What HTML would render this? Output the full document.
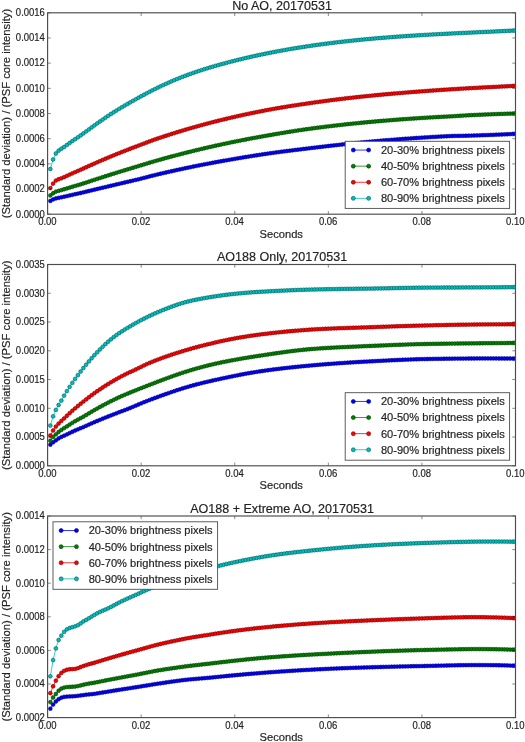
<!DOCTYPE html>
<html><head><meta charset="utf-8"><title>Standard deviation vs seconds</title>
<style>html,body{margin:0;padding:0;background:#fff}body{width:525px;height:742px;overflow:hidden;font-family:"Liberation Sans",sans-serif}svg{display:block}</style>
</head><body>
<svg width="525" height="742" viewBox="0 0 525 742" font-family="Liberation Sans, sans-serif" style="will-change:transform"><style>text{stroke:#222;stroke-width:0.18px;paint-order:stroke}</style>
<rect width="525" height="742" fill="#fff"/>
<g>
<clipPath id="cp0"><rect x="47.6" y="12.8" width="468.2" height="201.4"/></clipPath>
<g clip-path="url(#cp0)">
<polyline points="50.35,200.93 53.1,199.45 55.86,198.43 58.61,197.82 61.36,197.3 64.11,196.7 66.87,196.1 69.62,195.47 72.37,194.84 75.12,194.22 77.88,193.61 80.63,192.99 83.38,192.35 86.13,191.68 88.89,191.01 91.64,190.35 94.39,189.68 97.14,189.02 99.89,188.36 102.65,187.71 105.4,187.05 108.15,186.4 110.9,185.75 113.66,185.1 116.41,184.46 119.16,183.81 121.91,183.17 124.67,182.52 127.42,181.88 130.17,181.23 132.92,180.59 135.68,179.95 138.43,179.28 141.18,178.6 143.93,177.9 146.68,177.18 149.44,176.47 152.19,175.76 154.94,175.07 157.69,174.4 160.45,173.75 163.2,173.11 165.95,172.48 168.7,171.86 171.46,171.24 174.21,170.63 176.96,170.02 179.71,169.42 182.47,168.83 185.22,168.24 187.97,167.66 190.72,167.09 193.47,166.52 196.23,165.96 198.98,165.41 201.73,164.87 204.48,164.33 207.24,163.8 209.99,163.28 212.74,162.77 215.49,162.26 218.25,161.76 221,161.26 223.75,160.76 226.5,160.28 229.26,159.79 232.01,159.32 234.76,158.84 237.51,158.38 240.26,157.92 243.02,157.46 245.77,157.01 248.52,156.56 251.27,156.12 254.03,155.68 256.78,155.25 259.53,154.83 262.28,154.41 265.04,154 267.79,153.6 270.54,153.21 273.29,152.82 276.05,152.45 278.8,152.08 281.55,151.71 284.3,151.36 287.05,151.01 289.81,150.66 292.56,150.31 295.31,149.97 298.06,149.64 300.82,149.3 303.57,148.96 306.32,148.63 309.07,148.3 311.83,147.96 314.58,147.63 317.33,147.3 320.08,146.98 322.84,146.66 325.59,146.34 328.34,146.02 331.09,145.71 333.84,145.4 336.6,145.1 339.35,144.8 342.1,144.5 344.85,144.2 347.61,143.91 350.36,143.63 353.11,143.34 355.86,143.06 358.62,142.79 361.37,142.52 364.12,142.25 366.87,141.99 369.63,141.73 372.38,141.47 375.13,141.22 377.88,140.98 380.63,140.74 383.39,140.5 386.14,140.27 388.89,140.04 391.64,139.82 394.4,139.6 397.15,139.38 399.9,139.18 402.65,138.97 405.41,138.77 408.16,138.57 410.91,138.38 413.66,138.18 416.42,137.99 419.17,137.81 421.92,137.63 424.67,137.45 427.42,137.28 430.18,137.11 432.93,136.95 435.68,136.8 438.43,136.65 441.19,136.5 443.94,136.37 446.69,136.24 449.44,136.12 452.2,136.01 454.95,135.93 457.7,135.88 460.45,135.84 463.21,135.79 465.96,135.75 468.71,135.68 471.46,135.59 474.21,135.5 476.97,135.41 479.72,135.32 482.47,135.22 485.22,135.13 487.98,135.03 490.73,134.92 493.48,134.82 496.23,134.71 498.99,134.6 501.74,134.48 504.49,134.36 507.24,134.24 510,134.11 512.75,133.97 514.7,133.87" fill="none" stroke="#0000ff" stroke-width="0.8"/>
<g fill="#0000ff" stroke="#000070" stroke-width="0.6">
<circle cx="50.35" cy="200.93" r="1.9"/><circle cx="53.1" cy="199.45" r="1.9"/><circle cx="55.86" cy="198.43" r="1.9"/><circle cx="58.61" cy="197.82" r="1.9"/><circle cx="61.36" cy="197.3" r="1.9"/><circle cx="64.11" cy="196.7" r="1.9"/><circle cx="66.87" cy="196.1" r="1.9"/><circle cx="69.62" cy="195.47" r="1.9"/><circle cx="72.37" cy="194.84" r="1.9"/><circle cx="75.12" cy="194.22" r="1.9"/><circle cx="77.88" cy="193.61" r="1.9"/><circle cx="80.63" cy="192.99" r="1.9"/><circle cx="83.38" cy="192.35" r="1.9"/><circle cx="86.13" cy="191.68" r="1.9"/><circle cx="88.89" cy="191.01" r="1.9"/><circle cx="91.64" cy="190.35" r="1.9"/><circle cx="94.39" cy="189.68" r="1.9"/><circle cx="97.14" cy="189.02" r="1.9"/><circle cx="99.89" cy="188.36" r="1.9"/><circle cx="102.65" cy="187.71" r="1.9"/><circle cx="105.4" cy="187.05" r="1.9"/><circle cx="108.15" cy="186.4" r="1.9"/><circle cx="110.9" cy="185.75" r="1.9"/><circle cx="113.66" cy="185.1" r="1.9"/><circle cx="116.41" cy="184.46" r="1.9"/><circle cx="119.16" cy="183.81" r="1.9"/><circle cx="121.91" cy="183.17" r="1.9"/><circle cx="124.67" cy="182.52" r="1.9"/><circle cx="127.42" cy="181.88" r="1.9"/><circle cx="130.17" cy="181.23" r="1.9"/><circle cx="132.92" cy="180.59" r="1.9"/><circle cx="135.68" cy="179.95" r="1.9"/><circle cx="138.43" cy="179.28" r="1.9"/><circle cx="141.18" cy="178.6" r="1.9"/><circle cx="143.93" cy="177.9" r="1.9"/><circle cx="146.68" cy="177.18" r="1.9"/><circle cx="149.44" cy="176.47" r="1.9"/><circle cx="152.19" cy="175.76" r="1.9"/><circle cx="154.94" cy="175.07" r="1.9"/><circle cx="157.69" cy="174.4" r="1.9"/><circle cx="160.45" cy="173.75" r="1.9"/><circle cx="163.2" cy="173.11" r="1.9"/><circle cx="165.95" cy="172.48" r="1.9"/><circle cx="168.7" cy="171.86" r="1.9"/><circle cx="171.46" cy="171.24" r="1.9"/><circle cx="174.21" cy="170.63" r="1.9"/><circle cx="176.96" cy="170.02" r="1.9"/><circle cx="179.71" cy="169.42" r="1.9"/><circle cx="182.47" cy="168.83" r="1.9"/><circle cx="185.22" cy="168.24" r="1.9"/><circle cx="187.97" cy="167.66" r="1.9"/><circle cx="190.72" cy="167.09" r="1.9"/><circle cx="193.47" cy="166.52" r="1.9"/><circle cx="196.23" cy="165.96" r="1.9"/><circle cx="198.98" cy="165.41" r="1.9"/><circle cx="201.73" cy="164.87" r="1.9"/><circle cx="204.48" cy="164.33" r="1.9"/><circle cx="207.24" cy="163.8" r="1.9"/><circle cx="209.99" cy="163.28" r="1.9"/><circle cx="212.74" cy="162.77" r="1.9"/><circle cx="215.49" cy="162.26" r="1.9"/><circle cx="218.25" cy="161.76" r="1.9"/><circle cx="221" cy="161.26" r="1.9"/><circle cx="223.75" cy="160.76" r="1.9"/><circle cx="226.5" cy="160.28" r="1.9"/><circle cx="229.26" cy="159.79" r="1.9"/><circle cx="232.01" cy="159.32" r="1.9"/><circle cx="234.76" cy="158.84" r="1.9"/><circle cx="237.51" cy="158.38" r="1.9"/><circle cx="240.26" cy="157.92" r="1.9"/><circle cx="243.02" cy="157.46" r="1.9"/><circle cx="245.77" cy="157.01" r="1.9"/><circle cx="248.52" cy="156.56" r="1.9"/><circle cx="251.27" cy="156.12" r="1.9"/><circle cx="254.03" cy="155.68" r="1.9"/><circle cx="256.78" cy="155.25" r="1.9"/><circle cx="259.53" cy="154.83" r="1.9"/><circle cx="262.28" cy="154.41" r="1.9"/><circle cx="265.04" cy="154" r="1.9"/><circle cx="267.79" cy="153.6" r="1.9"/><circle cx="270.54" cy="153.21" r="1.9"/><circle cx="273.29" cy="152.82" r="1.9"/><circle cx="276.05" cy="152.45" r="1.9"/><circle cx="278.8" cy="152.08" r="1.9"/><circle cx="281.55" cy="151.71" r="1.9"/><circle cx="284.3" cy="151.36" r="1.9"/><circle cx="287.05" cy="151.01" r="1.9"/><circle cx="289.81" cy="150.66" r="1.9"/><circle cx="292.56" cy="150.31" r="1.9"/><circle cx="295.31" cy="149.97" r="1.9"/><circle cx="298.06" cy="149.64" r="1.9"/><circle cx="300.82" cy="149.3" r="1.9"/><circle cx="303.57" cy="148.96" r="1.9"/><circle cx="306.32" cy="148.63" r="1.9"/><circle cx="309.07" cy="148.3" r="1.9"/><circle cx="311.83" cy="147.96" r="1.9"/><circle cx="314.58" cy="147.63" r="1.9"/><circle cx="317.33" cy="147.3" r="1.9"/><circle cx="320.08" cy="146.98" r="1.9"/><circle cx="322.84" cy="146.66" r="1.9"/><circle cx="325.59" cy="146.34" r="1.9"/><circle cx="328.34" cy="146.02" r="1.9"/><circle cx="331.09" cy="145.71" r="1.9"/><circle cx="333.84" cy="145.4" r="1.9"/><circle cx="336.6" cy="145.1" r="1.9"/><circle cx="339.35" cy="144.8" r="1.9"/><circle cx="342.1" cy="144.5" r="1.9"/><circle cx="344.85" cy="144.2" r="1.9"/><circle cx="347.61" cy="143.91" r="1.9"/><circle cx="350.36" cy="143.63" r="1.9"/><circle cx="353.11" cy="143.34" r="1.9"/><circle cx="355.86" cy="143.06" r="1.9"/><circle cx="358.62" cy="142.79" r="1.9"/><circle cx="361.37" cy="142.52" r="1.9"/><circle cx="364.12" cy="142.25" r="1.9"/><circle cx="366.87" cy="141.99" r="1.9"/><circle cx="369.63" cy="141.73" r="1.9"/><circle cx="372.38" cy="141.47" r="1.9"/><circle cx="375.13" cy="141.22" r="1.9"/><circle cx="377.88" cy="140.98" r="1.9"/><circle cx="380.63" cy="140.74" r="1.9"/><circle cx="383.39" cy="140.5" r="1.9"/><circle cx="386.14" cy="140.27" r="1.9"/><circle cx="388.89" cy="140.04" r="1.9"/><circle cx="391.64" cy="139.82" r="1.9"/><circle cx="394.4" cy="139.6" r="1.9"/><circle cx="397.15" cy="139.38" r="1.9"/><circle cx="399.9" cy="139.18" r="1.9"/><circle cx="402.65" cy="138.97" r="1.9"/><circle cx="405.41" cy="138.77" r="1.9"/><circle cx="408.16" cy="138.57" r="1.9"/><circle cx="410.91" cy="138.38" r="1.9"/><circle cx="413.66" cy="138.18" r="1.9"/><circle cx="416.42" cy="137.99" r="1.9"/><circle cx="419.17" cy="137.81" r="1.9"/><circle cx="421.92" cy="137.63" r="1.9"/><circle cx="424.67" cy="137.45" r="1.9"/><circle cx="427.42" cy="137.28" r="1.9"/><circle cx="430.18" cy="137.11" r="1.9"/><circle cx="432.93" cy="136.95" r="1.9"/><circle cx="435.68" cy="136.8" r="1.9"/><circle cx="438.43" cy="136.65" r="1.9"/><circle cx="441.19" cy="136.5" r="1.9"/><circle cx="443.94" cy="136.37" r="1.9"/><circle cx="446.69" cy="136.24" r="1.9"/><circle cx="449.44" cy="136.12" r="1.9"/><circle cx="452.2" cy="136.01" r="1.9"/><circle cx="454.95" cy="135.93" r="1.9"/><circle cx="457.7" cy="135.88" r="1.9"/><circle cx="460.45" cy="135.84" r="1.9"/><circle cx="463.21" cy="135.79" r="1.9"/><circle cx="465.96" cy="135.75" r="1.9"/><circle cx="468.71" cy="135.68" r="1.9"/><circle cx="471.46" cy="135.59" r="1.9"/><circle cx="474.21" cy="135.5" r="1.9"/><circle cx="476.97" cy="135.41" r="1.9"/><circle cx="479.72" cy="135.32" r="1.9"/><circle cx="482.47" cy="135.22" r="1.9"/><circle cx="485.22" cy="135.13" r="1.9"/><circle cx="487.98" cy="135.03" r="1.9"/><circle cx="490.73" cy="134.92" r="1.9"/><circle cx="493.48" cy="134.82" r="1.9"/><circle cx="496.23" cy="134.71" r="1.9"/><circle cx="498.99" cy="134.6" r="1.9"/><circle cx="501.74" cy="134.48" r="1.9"/><circle cx="504.49" cy="134.36" r="1.9"/><circle cx="507.24" cy="134.24" r="1.9"/><circle cx="510" cy="134.11" r="1.9"/><circle cx="512.75" cy="133.97" r="1.9"/><circle cx="514.7" cy="133.87" r="1.9"/>
</g>
<polyline points="50.35,195.43 53.1,193.27 55.86,191.62 58.61,190.84 61.36,190.09 64.11,189.26 66.87,188.43 69.62,187.59 72.37,186.76 75.12,185.95 77.88,185.14 80.63,184.31 83.38,183.45 86.13,182.54 88.89,181.63 91.64,180.72 94.39,179.82 97.14,178.92 99.89,178.03 102.65,177.14 105.4,176.26 108.15,175.38 110.9,174.51 113.66,173.65 116.41,172.79 119.16,171.93 121.91,171.08 124.67,170.24 127.42,169.4 130.17,168.57 132.92,167.74 135.68,166.92 138.43,166.09 141.18,165.25 143.93,164.41 146.68,163.58 149.44,162.74 152.19,161.92 154.94,161.1 157.69,160.31 160.45,159.53 163.2,158.77 165.95,158.01 168.7,157.26 171.46,156.52 174.21,155.79 176.96,155.07 179.71,154.35 182.47,153.64 185.22,152.94 187.97,152.25 190.72,151.56 193.47,150.88 196.23,150.21 198.98,149.55 201.73,148.89 204.48,148.25 207.24,147.61 209.99,146.98 212.74,146.36 215.49,145.74 218.25,145.14 221,144.54 223.75,143.94 226.5,143.36 229.26,142.78 232.01,142.21 234.76,141.65 237.51,141.1 240.26,140.55 243.02,140.01 245.77,139.48 248.52,138.95 251.27,138.44 254.03,137.93 256.78,137.42 259.53,136.93 262.28,136.44 265.04,135.95 267.79,135.46 270.54,134.98 273.29,134.5 276.05,134.02 278.8,133.55 281.55,133.09 284.3,132.63 287.05,132.18 289.81,131.73 292.56,131.29 295.31,130.86 298.06,130.44 300.82,130.03 303.57,129.62 306.32,129.23 309.07,128.85 311.83,128.48 314.58,128.11 317.33,127.75 320.08,127.4 322.84,127.05 325.59,126.71 328.34,126.37 331.09,126.04 333.84,125.72 336.6,125.4 339.35,125.08 342.1,124.78 344.85,124.47 347.61,124.17 350.36,123.88 353.11,123.59 355.86,123.31 358.62,123.04 361.37,122.76 364.12,122.5 366.87,122.24 369.63,121.98 372.38,121.73 375.13,121.48 377.88,121.24 380.63,121 383.39,120.77 386.14,120.54 388.89,120.31 391.64,120.09 394.4,119.88 397.15,119.67 399.9,119.46 402.65,119.26 405.41,119.06 408.16,118.87 410.91,118.68 413.66,118.49 416.42,118.31 419.17,118.13 421.92,117.96 424.67,117.79 427.42,117.62 430.18,117.46 432.93,117.3 435.68,117.15 438.43,117 441.19,116.85 443.94,116.7 446.69,116.56 449.44,116.43 452.2,116.28 454.95,116.12 457.7,115.95 460.45,115.77 463.21,115.59 465.96,115.42 468.71,115.26 471.46,115.13 474.21,115 476.97,114.87 479.72,114.75 482.47,114.63 485.22,114.51 487.98,114.4 490.73,114.29 493.48,114.18 496.23,114.08 498.99,113.98 501.74,113.89 504.49,113.8 507.24,113.71 510,113.63 512.75,113.55 514.7,113.5" fill="none" stroke="#008000" stroke-width="0.8"/>
<g fill="#008000" stroke="#003800" stroke-width="0.6">
<circle cx="50.35" cy="195.43" r="1.9"/><circle cx="53.1" cy="193.27" r="1.9"/><circle cx="55.86" cy="191.62" r="1.9"/><circle cx="58.61" cy="190.84" r="1.9"/><circle cx="61.36" cy="190.09" r="1.9"/><circle cx="64.11" cy="189.26" r="1.9"/><circle cx="66.87" cy="188.43" r="1.9"/><circle cx="69.62" cy="187.59" r="1.9"/><circle cx="72.37" cy="186.76" r="1.9"/><circle cx="75.12" cy="185.95" r="1.9"/><circle cx="77.88" cy="185.14" r="1.9"/><circle cx="80.63" cy="184.31" r="1.9"/><circle cx="83.38" cy="183.45" r="1.9"/><circle cx="86.13" cy="182.54" r="1.9"/><circle cx="88.89" cy="181.63" r="1.9"/><circle cx="91.64" cy="180.72" r="1.9"/><circle cx="94.39" cy="179.82" r="1.9"/><circle cx="97.14" cy="178.92" r="1.9"/><circle cx="99.89" cy="178.03" r="1.9"/><circle cx="102.65" cy="177.14" r="1.9"/><circle cx="105.4" cy="176.26" r="1.9"/><circle cx="108.15" cy="175.38" r="1.9"/><circle cx="110.9" cy="174.51" r="1.9"/><circle cx="113.66" cy="173.65" r="1.9"/><circle cx="116.41" cy="172.79" r="1.9"/><circle cx="119.16" cy="171.93" r="1.9"/><circle cx="121.91" cy="171.08" r="1.9"/><circle cx="124.67" cy="170.24" r="1.9"/><circle cx="127.42" cy="169.4" r="1.9"/><circle cx="130.17" cy="168.57" r="1.9"/><circle cx="132.92" cy="167.74" r="1.9"/><circle cx="135.68" cy="166.92" r="1.9"/><circle cx="138.43" cy="166.09" r="1.9"/><circle cx="141.18" cy="165.25" r="1.9"/><circle cx="143.93" cy="164.41" r="1.9"/><circle cx="146.68" cy="163.58" r="1.9"/><circle cx="149.44" cy="162.74" r="1.9"/><circle cx="152.19" cy="161.92" r="1.9"/><circle cx="154.94" cy="161.1" r="1.9"/><circle cx="157.69" cy="160.31" r="1.9"/><circle cx="160.45" cy="159.53" r="1.9"/><circle cx="163.2" cy="158.77" r="1.9"/><circle cx="165.95" cy="158.01" r="1.9"/><circle cx="168.7" cy="157.26" r="1.9"/><circle cx="171.46" cy="156.52" r="1.9"/><circle cx="174.21" cy="155.79" r="1.9"/><circle cx="176.96" cy="155.07" r="1.9"/><circle cx="179.71" cy="154.35" r="1.9"/><circle cx="182.47" cy="153.64" r="1.9"/><circle cx="185.22" cy="152.94" r="1.9"/><circle cx="187.97" cy="152.25" r="1.9"/><circle cx="190.72" cy="151.56" r="1.9"/><circle cx="193.47" cy="150.88" r="1.9"/><circle cx="196.23" cy="150.21" r="1.9"/><circle cx="198.98" cy="149.55" r="1.9"/><circle cx="201.73" cy="148.89" r="1.9"/><circle cx="204.48" cy="148.25" r="1.9"/><circle cx="207.24" cy="147.61" r="1.9"/><circle cx="209.99" cy="146.98" r="1.9"/><circle cx="212.74" cy="146.36" r="1.9"/><circle cx="215.49" cy="145.74" r="1.9"/><circle cx="218.25" cy="145.14" r="1.9"/><circle cx="221" cy="144.54" r="1.9"/><circle cx="223.75" cy="143.94" r="1.9"/><circle cx="226.5" cy="143.36" r="1.9"/><circle cx="229.26" cy="142.78" r="1.9"/><circle cx="232.01" cy="142.21" r="1.9"/><circle cx="234.76" cy="141.65" r="1.9"/><circle cx="237.51" cy="141.1" r="1.9"/><circle cx="240.26" cy="140.55" r="1.9"/><circle cx="243.02" cy="140.01" r="1.9"/><circle cx="245.77" cy="139.48" r="1.9"/><circle cx="248.52" cy="138.95" r="1.9"/><circle cx="251.27" cy="138.44" r="1.9"/><circle cx="254.03" cy="137.93" r="1.9"/><circle cx="256.78" cy="137.42" r="1.9"/><circle cx="259.53" cy="136.93" r="1.9"/><circle cx="262.28" cy="136.44" r="1.9"/><circle cx="265.04" cy="135.95" r="1.9"/><circle cx="267.79" cy="135.46" r="1.9"/><circle cx="270.54" cy="134.98" r="1.9"/><circle cx="273.29" cy="134.5" r="1.9"/><circle cx="276.05" cy="134.02" r="1.9"/><circle cx="278.8" cy="133.55" r="1.9"/><circle cx="281.55" cy="133.09" r="1.9"/><circle cx="284.3" cy="132.63" r="1.9"/><circle cx="287.05" cy="132.18" r="1.9"/><circle cx="289.81" cy="131.73" r="1.9"/><circle cx="292.56" cy="131.29" r="1.9"/><circle cx="295.31" cy="130.86" r="1.9"/><circle cx="298.06" cy="130.44" r="1.9"/><circle cx="300.82" cy="130.03" r="1.9"/><circle cx="303.57" cy="129.62" r="1.9"/><circle cx="306.32" cy="129.23" r="1.9"/><circle cx="309.07" cy="128.85" r="1.9"/><circle cx="311.83" cy="128.48" r="1.9"/><circle cx="314.58" cy="128.11" r="1.9"/><circle cx="317.33" cy="127.75" r="1.9"/><circle cx="320.08" cy="127.4" r="1.9"/><circle cx="322.84" cy="127.05" r="1.9"/><circle cx="325.59" cy="126.71" r="1.9"/><circle cx="328.34" cy="126.37" r="1.9"/><circle cx="331.09" cy="126.04" r="1.9"/><circle cx="333.84" cy="125.72" r="1.9"/><circle cx="336.6" cy="125.4" r="1.9"/><circle cx="339.35" cy="125.08" r="1.9"/><circle cx="342.1" cy="124.78" r="1.9"/><circle cx="344.85" cy="124.47" r="1.9"/><circle cx="347.61" cy="124.17" r="1.9"/><circle cx="350.36" cy="123.88" r="1.9"/><circle cx="353.11" cy="123.59" r="1.9"/><circle cx="355.86" cy="123.31" r="1.9"/><circle cx="358.62" cy="123.04" r="1.9"/><circle cx="361.37" cy="122.76" r="1.9"/><circle cx="364.12" cy="122.5" r="1.9"/><circle cx="366.87" cy="122.24" r="1.9"/><circle cx="369.63" cy="121.98" r="1.9"/><circle cx="372.38" cy="121.73" r="1.9"/><circle cx="375.13" cy="121.48" r="1.9"/><circle cx="377.88" cy="121.24" r="1.9"/><circle cx="380.63" cy="121" r="1.9"/><circle cx="383.39" cy="120.77" r="1.9"/><circle cx="386.14" cy="120.54" r="1.9"/><circle cx="388.89" cy="120.31" r="1.9"/><circle cx="391.64" cy="120.09" r="1.9"/><circle cx="394.4" cy="119.88" r="1.9"/><circle cx="397.15" cy="119.67" r="1.9"/><circle cx="399.9" cy="119.46" r="1.9"/><circle cx="402.65" cy="119.26" r="1.9"/><circle cx="405.41" cy="119.06" r="1.9"/><circle cx="408.16" cy="118.87" r="1.9"/><circle cx="410.91" cy="118.68" r="1.9"/><circle cx="413.66" cy="118.49" r="1.9"/><circle cx="416.42" cy="118.31" r="1.9"/><circle cx="419.17" cy="118.13" r="1.9"/><circle cx="421.92" cy="117.96" r="1.9"/><circle cx="424.67" cy="117.79" r="1.9"/><circle cx="427.42" cy="117.62" r="1.9"/><circle cx="430.18" cy="117.46" r="1.9"/><circle cx="432.93" cy="117.3" r="1.9"/><circle cx="435.68" cy="117.15" r="1.9"/><circle cx="438.43" cy="117" r="1.9"/><circle cx="441.19" cy="116.85" r="1.9"/><circle cx="443.94" cy="116.7" r="1.9"/><circle cx="446.69" cy="116.56" r="1.9"/><circle cx="449.44" cy="116.43" r="1.9"/><circle cx="452.2" cy="116.28" r="1.9"/><circle cx="454.95" cy="116.12" r="1.9"/><circle cx="457.7" cy="115.95" r="1.9"/><circle cx="460.45" cy="115.77" r="1.9"/><circle cx="463.21" cy="115.59" r="1.9"/><circle cx="465.96" cy="115.42" r="1.9"/><circle cx="468.71" cy="115.26" r="1.9"/><circle cx="471.46" cy="115.13" r="1.9"/><circle cx="474.21" cy="115" r="1.9"/><circle cx="476.97" cy="114.87" r="1.9"/><circle cx="479.72" cy="114.75" r="1.9"/><circle cx="482.47" cy="114.63" r="1.9"/><circle cx="485.22" cy="114.51" r="1.9"/><circle cx="487.98" cy="114.4" r="1.9"/><circle cx="490.73" cy="114.29" r="1.9"/><circle cx="493.48" cy="114.18" r="1.9"/><circle cx="496.23" cy="114.08" r="1.9"/><circle cx="498.99" cy="113.98" r="1.9"/><circle cx="501.74" cy="113.89" r="1.9"/><circle cx="504.49" cy="113.8" r="1.9"/><circle cx="507.24" cy="113.71" r="1.9"/><circle cx="510" cy="113.63" r="1.9"/><circle cx="512.75" cy="113.55" r="1.9"/><circle cx="514.7" cy="113.5" r="1.9"/>
</g>
<polyline points="50.35,188.08 53.1,183.6 55.86,180.54 58.61,179.22 61.36,178.28 64.11,177.16 66.87,175.86 69.62,174.57 72.37,173.33 75.12,172.13 77.88,170.93 80.63,169.72 83.38,168.5 86.13,167.24 88.89,165.99 91.64,164.75 94.39,163.53 97.14,162.31 99.89,161.11 102.65,159.93 105.4,158.75 108.15,157.59 110.9,156.45 113.66,155.31 116.41,154.19 119.16,153.08 121.91,151.98 124.67,150.89 127.42,149.82 130.17,148.75 132.92,147.7 135.68,146.66 138.43,145.62 141.18,144.58 143.93,143.53 146.68,142.5 149.44,141.47 152.19,140.46 154.94,139.47 157.69,138.51 160.45,137.58 163.2,136.66 165.95,135.76 168.7,134.87 171.46,133.99 174.21,133.12 176.96,132.27 179.71,131.42 182.47,130.59 185.22,129.77 187.97,128.96 190.72,128.16 193.47,127.37 196.23,126.59 198.98,125.82 201.73,125.07 204.48,124.32 207.24,123.59 209.99,122.87 212.74,122.15 215.49,121.45 218.25,120.76 221,120.07 223.75,119.4 226.5,118.74 229.26,118.09 232.01,117.44 234.76,116.81 237.51,116.18 240.26,115.57 243.02,114.97 245.77,114.37 248.52,113.78 251.27,113.21 254.03,112.64 256.78,112.08 259.53,111.53 262.28,110.99 265.04,110.46 267.79,109.94 270.54,109.44 273.29,108.94 276.05,108.45 278.8,107.98 281.55,107.51 284.3,107.05 287.05,106.6 289.81,106.16 292.56,105.72 295.31,105.29 298.06,104.87 300.82,104.45 303.57,104.04 306.32,103.63 309.07,103.23 311.83,102.83 314.58,102.44 317.33,102.05 320.08,101.67 322.84,101.29 325.59,100.93 328.34,100.56 331.09,100.21 333.84,99.86 336.6,99.51 339.35,99.18 342.1,98.84 344.85,98.52 347.61,98.19 350.36,97.88 353.11,97.57 355.86,97.26 358.62,96.96 361.37,96.67 364.12,96.38 366.87,96.09 369.63,95.82 372.38,95.54 375.13,95.27 377.88,95.01 380.63,94.75 383.39,94.49 386.14,94.24 388.89,93.99 391.64,93.75 394.4,93.51 397.15,93.28 399.9,93.05 402.65,92.82 405.41,92.6 408.16,92.38 410.91,92.16 413.66,91.94 416.42,91.73 419.17,91.52 421.92,91.31 424.67,91.1 427.42,90.9 430.18,90.7 432.93,90.51 435.68,90.31 438.43,90.12 441.19,89.94 443.94,89.75 446.69,89.57 449.44,89.4 452.2,89.22 454.95,89.05 457.7,88.88 460.45,88.72 463.21,88.55 465.96,88.39 468.71,88.24 471.46,88.09 474.21,87.93 476.97,87.79 479.72,87.64 482.47,87.49 485.22,87.35 487.98,87.21 490.73,87.07 493.48,86.93 496.23,86.79 498.99,86.65 501.74,86.52 504.49,86.38 507.24,86.25 510,86.12 512.75,85.99 514.7,85.9" fill="none" stroke="#ff0000" stroke-width="0.8"/>
<g fill="#ff0000" stroke="#700000" stroke-width="0.6">
<circle cx="50.35" cy="188.08" r="1.9"/><circle cx="53.1" cy="183.6" r="1.9"/><circle cx="55.86" cy="180.54" r="1.9"/><circle cx="58.61" cy="179.22" r="1.9"/><circle cx="61.36" cy="178.28" r="1.9"/><circle cx="64.11" cy="177.16" r="1.9"/><circle cx="66.87" cy="175.86" r="1.9"/><circle cx="69.62" cy="174.57" r="1.9"/><circle cx="72.37" cy="173.33" r="1.9"/><circle cx="75.12" cy="172.13" r="1.9"/><circle cx="77.88" cy="170.93" r="1.9"/><circle cx="80.63" cy="169.72" r="1.9"/><circle cx="83.38" cy="168.5" r="1.9"/><circle cx="86.13" cy="167.24" r="1.9"/><circle cx="88.89" cy="165.99" r="1.9"/><circle cx="91.64" cy="164.75" r="1.9"/><circle cx="94.39" cy="163.53" r="1.9"/><circle cx="97.14" cy="162.31" r="1.9"/><circle cx="99.89" cy="161.11" r="1.9"/><circle cx="102.65" cy="159.93" r="1.9"/><circle cx="105.4" cy="158.75" r="1.9"/><circle cx="108.15" cy="157.59" r="1.9"/><circle cx="110.9" cy="156.45" r="1.9"/><circle cx="113.66" cy="155.31" r="1.9"/><circle cx="116.41" cy="154.19" r="1.9"/><circle cx="119.16" cy="153.08" r="1.9"/><circle cx="121.91" cy="151.98" r="1.9"/><circle cx="124.67" cy="150.89" r="1.9"/><circle cx="127.42" cy="149.82" r="1.9"/><circle cx="130.17" cy="148.75" r="1.9"/><circle cx="132.92" cy="147.7" r="1.9"/><circle cx="135.68" cy="146.66" r="1.9"/><circle cx="138.43" cy="145.62" r="1.9"/><circle cx="141.18" cy="144.58" r="1.9"/><circle cx="143.93" cy="143.53" r="1.9"/><circle cx="146.68" cy="142.5" r="1.9"/><circle cx="149.44" cy="141.47" r="1.9"/><circle cx="152.19" cy="140.46" r="1.9"/><circle cx="154.94" cy="139.47" r="1.9"/><circle cx="157.69" cy="138.51" r="1.9"/><circle cx="160.45" cy="137.58" r="1.9"/><circle cx="163.2" cy="136.66" r="1.9"/><circle cx="165.95" cy="135.76" r="1.9"/><circle cx="168.7" cy="134.87" r="1.9"/><circle cx="171.46" cy="133.99" r="1.9"/><circle cx="174.21" cy="133.12" r="1.9"/><circle cx="176.96" cy="132.27" r="1.9"/><circle cx="179.71" cy="131.42" r="1.9"/><circle cx="182.47" cy="130.59" r="1.9"/><circle cx="185.22" cy="129.77" r="1.9"/><circle cx="187.97" cy="128.96" r="1.9"/><circle cx="190.72" cy="128.16" r="1.9"/><circle cx="193.47" cy="127.37" r="1.9"/><circle cx="196.23" cy="126.59" r="1.9"/><circle cx="198.98" cy="125.82" r="1.9"/><circle cx="201.73" cy="125.07" r="1.9"/><circle cx="204.48" cy="124.32" r="1.9"/><circle cx="207.24" cy="123.59" r="1.9"/><circle cx="209.99" cy="122.87" r="1.9"/><circle cx="212.74" cy="122.15" r="1.9"/><circle cx="215.49" cy="121.45" r="1.9"/><circle cx="218.25" cy="120.76" r="1.9"/><circle cx="221" cy="120.07" r="1.9"/><circle cx="223.75" cy="119.4" r="1.9"/><circle cx="226.5" cy="118.74" r="1.9"/><circle cx="229.26" cy="118.09" r="1.9"/><circle cx="232.01" cy="117.44" r="1.9"/><circle cx="234.76" cy="116.81" r="1.9"/><circle cx="237.51" cy="116.18" r="1.9"/><circle cx="240.26" cy="115.57" r="1.9"/><circle cx="243.02" cy="114.97" r="1.9"/><circle cx="245.77" cy="114.37" r="1.9"/><circle cx="248.52" cy="113.78" r="1.9"/><circle cx="251.27" cy="113.21" r="1.9"/><circle cx="254.03" cy="112.64" r="1.9"/><circle cx="256.78" cy="112.08" r="1.9"/><circle cx="259.53" cy="111.53" r="1.9"/><circle cx="262.28" cy="110.99" r="1.9"/><circle cx="265.04" cy="110.46" r="1.9"/><circle cx="267.79" cy="109.94" r="1.9"/><circle cx="270.54" cy="109.44" r="1.9"/><circle cx="273.29" cy="108.94" r="1.9"/><circle cx="276.05" cy="108.45" r="1.9"/><circle cx="278.8" cy="107.98" r="1.9"/><circle cx="281.55" cy="107.51" r="1.9"/><circle cx="284.3" cy="107.05" r="1.9"/><circle cx="287.05" cy="106.6" r="1.9"/><circle cx="289.81" cy="106.16" r="1.9"/><circle cx="292.56" cy="105.72" r="1.9"/><circle cx="295.31" cy="105.29" r="1.9"/><circle cx="298.06" cy="104.87" r="1.9"/><circle cx="300.82" cy="104.45" r="1.9"/><circle cx="303.57" cy="104.04" r="1.9"/><circle cx="306.32" cy="103.63" r="1.9"/><circle cx="309.07" cy="103.23" r="1.9"/><circle cx="311.83" cy="102.83" r="1.9"/><circle cx="314.58" cy="102.44" r="1.9"/><circle cx="317.33" cy="102.05" r="1.9"/><circle cx="320.08" cy="101.67" r="1.9"/><circle cx="322.84" cy="101.29" r="1.9"/><circle cx="325.59" cy="100.93" r="1.9"/><circle cx="328.34" cy="100.56" r="1.9"/><circle cx="331.09" cy="100.21" r="1.9"/><circle cx="333.84" cy="99.86" r="1.9"/><circle cx="336.6" cy="99.51" r="1.9"/><circle cx="339.35" cy="99.18" r="1.9"/><circle cx="342.1" cy="98.84" r="1.9"/><circle cx="344.85" cy="98.52" r="1.9"/><circle cx="347.61" cy="98.19" r="1.9"/><circle cx="350.36" cy="97.88" r="1.9"/><circle cx="353.11" cy="97.57" r="1.9"/><circle cx="355.86" cy="97.26" r="1.9"/><circle cx="358.62" cy="96.96" r="1.9"/><circle cx="361.37" cy="96.67" r="1.9"/><circle cx="364.12" cy="96.38" r="1.9"/><circle cx="366.87" cy="96.09" r="1.9"/><circle cx="369.63" cy="95.82" r="1.9"/><circle cx="372.38" cy="95.54" r="1.9"/><circle cx="375.13" cy="95.27" r="1.9"/><circle cx="377.88" cy="95.01" r="1.9"/><circle cx="380.63" cy="94.75" r="1.9"/><circle cx="383.39" cy="94.49" r="1.9"/><circle cx="386.14" cy="94.24" r="1.9"/><circle cx="388.89" cy="93.99" r="1.9"/><circle cx="391.64" cy="93.75" r="1.9"/><circle cx="394.4" cy="93.51" r="1.9"/><circle cx="397.15" cy="93.28" r="1.9"/><circle cx="399.9" cy="93.05" r="1.9"/><circle cx="402.65" cy="92.82" r="1.9"/><circle cx="405.41" cy="92.6" r="1.9"/><circle cx="408.16" cy="92.38" r="1.9"/><circle cx="410.91" cy="92.16" r="1.9"/><circle cx="413.66" cy="91.94" r="1.9"/><circle cx="416.42" cy="91.73" r="1.9"/><circle cx="419.17" cy="91.52" r="1.9"/><circle cx="421.92" cy="91.31" r="1.9"/><circle cx="424.67" cy="91.1" r="1.9"/><circle cx="427.42" cy="90.9" r="1.9"/><circle cx="430.18" cy="90.7" r="1.9"/><circle cx="432.93" cy="90.51" r="1.9"/><circle cx="435.68" cy="90.31" r="1.9"/><circle cx="438.43" cy="90.12" r="1.9"/><circle cx="441.19" cy="89.94" r="1.9"/><circle cx="443.94" cy="89.75" r="1.9"/><circle cx="446.69" cy="89.57" r="1.9"/><circle cx="449.44" cy="89.4" r="1.9"/><circle cx="452.2" cy="89.22" r="1.9"/><circle cx="454.95" cy="89.05" r="1.9"/><circle cx="457.7" cy="88.88" r="1.9"/><circle cx="460.45" cy="88.72" r="1.9"/><circle cx="463.21" cy="88.55" r="1.9"/><circle cx="465.96" cy="88.39" r="1.9"/><circle cx="468.71" cy="88.24" r="1.9"/><circle cx="471.46" cy="88.09" r="1.9"/><circle cx="474.21" cy="87.93" r="1.9"/><circle cx="476.97" cy="87.79" r="1.9"/><circle cx="479.72" cy="87.64" r="1.9"/><circle cx="482.47" cy="87.49" r="1.9"/><circle cx="485.22" cy="87.35" r="1.9"/><circle cx="487.98" cy="87.21" r="1.9"/><circle cx="490.73" cy="87.07" r="1.9"/><circle cx="493.48" cy="86.93" r="1.9"/><circle cx="496.23" cy="86.79" r="1.9"/><circle cx="498.99" cy="86.65" r="1.9"/><circle cx="501.74" cy="86.52" r="1.9"/><circle cx="504.49" cy="86.38" r="1.9"/><circle cx="507.24" cy="86.25" r="1.9"/><circle cx="510" cy="86.12" r="1.9"/><circle cx="512.75" cy="85.99" r="1.9"/><circle cx="514.7" cy="85.9" r="1.9"/>
</g>
<polyline points="50.35,168.99 53.1,159.49 55.86,153.5 58.61,150.63 61.36,148.74 64.11,147.01 66.87,144.96 69.62,142.92 72.37,141.02 75.12,139.15 77.88,137.28 80.63,135.39 83.38,133.46 86.13,131.46 88.89,129.45 91.64,127.44 94.39,125.44 97.14,123.46 99.89,121.5 102.65,119.56 105.4,117.66 108.15,115.81 110.9,114 113.66,112.25 116.41,110.53 119.16,108.85 121.91,107.2 124.67,105.58 127.42,103.99 130.17,102.41 132.92,100.85 135.68,99.29 138.43,97.76 141.18,96.25 143.93,94.76 146.68,93.29 149.44,91.85 152.19,90.44 154.94,89.06 157.69,87.7 160.45,86.37 163.2,85.08 165.95,83.81 168.7,82.57 171.46,81.36 174.21,80.19 176.96,79.04 179.71,77.93 182.47,76.85 185.22,75.8 187.97,74.77 190.72,73.78 193.47,72.81 196.23,71.86 198.98,70.94 201.73,70.04 204.48,69.16 207.24,68.31 209.99,67.47 212.74,66.66 215.49,65.86 218.25,65.08 221,64.31 223.75,63.56 226.5,62.82 229.26,62.1 232.01,61.38 234.76,60.68 237.51,59.99 240.26,59.32 243.02,58.65 245.77,58 248.52,57.36 251.27,56.74 254.03,56.12 256.78,55.52 259.53,54.92 262.28,54.34 265.04,53.77 267.79,53.21 270.54,52.67 273.29,52.13 276.05,51.6 278.8,51.09 281.55,50.58 284.3,50.09 287.05,49.6 289.81,49.12 292.56,48.66 295.31,48.2 298.06,47.75 300.82,47.31 303.57,46.88 306.32,46.46 309.07,46.05 311.83,45.64 314.58,45.25 317.33,44.86 320.08,44.48 322.84,44.11 325.59,43.75 328.34,43.39 331.09,43.05 333.84,42.71 336.6,42.37 339.35,42.05 342.1,41.73 344.85,41.42 347.61,41.12 350.36,40.82 353.11,40.53 355.86,40.25 358.62,39.97 361.37,39.7 364.12,39.44 366.87,39.18 369.63,38.93 372.38,38.68 375.13,38.44 377.88,38.2 380.63,37.97 383.39,37.75 386.14,37.53 388.89,37.32 391.64,37.11 394.4,36.9 397.15,36.7 399.9,36.51 402.65,36.32 405.41,36.13 408.16,35.95 410.91,35.77 413.66,35.6 416.42,35.43 419.17,35.26 421.92,35.1 424.67,34.93 427.42,34.78 430.18,34.62 432.93,34.47 435.68,34.32 438.43,34.17 441.19,34.03 443.94,33.88 446.69,33.74 449.44,33.6 452.2,33.47 454.95,33.33 457.7,33.2 460.45,33.06 463.21,32.93 465.96,32.8 468.71,32.67 471.46,32.55 474.21,32.42 476.97,32.29 479.72,32.16 482.47,32.04 485.22,31.91 487.98,31.78 490.73,31.66 493.48,31.53 496.23,31.4 498.99,31.27 501.74,31.15 504.49,31.02 507.24,30.88 510,30.75 512.75,30.62 514.7,30.52" fill="none" stroke="#00bfbf" stroke-width="0.8"/>
<g fill="#00bfbf" stroke="#005858" stroke-width="0.6">
<circle cx="50.35" cy="168.99" r="1.9"/><circle cx="53.1" cy="159.49" r="1.9"/><circle cx="55.86" cy="153.5" r="1.9"/><circle cx="58.61" cy="150.63" r="1.9"/><circle cx="61.36" cy="148.74" r="1.9"/><circle cx="64.11" cy="147.01" r="1.9"/><circle cx="66.87" cy="144.96" r="1.9"/><circle cx="69.62" cy="142.92" r="1.9"/><circle cx="72.37" cy="141.02" r="1.9"/><circle cx="75.12" cy="139.15" r="1.9"/><circle cx="77.88" cy="137.28" r="1.9"/><circle cx="80.63" cy="135.39" r="1.9"/><circle cx="83.38" cy="133.46" r="1.9"/><circle cx="86.13" cy="131.46" r="1.9"/><circle cx="88.89" cy="129.45" r="1.9"/><circle cx="91.64" cy="127.44" r="1.9"/><circle cx="94.39" cy="125.44" r="1.9"/><circle cx="97.14" cy="123.46" r="1.9"/><circle cx="99.89" cy="121.5" r="1.9"/><circle cx="102.65" cy="119.56" r="1.9"/><circle cx="105.4" cy="117.66" r="1.9"/><circle cx="108.15" cy="115.81" r="1.9"/><circle cx="110.9" cy="114" r="1.9"/><circle cx="113.66" cy="112.25" r="1.9"/><circle cx="116.41" cy="110.53" r="1.9"/><circle cx="119.16" cy="108.85" r="1.9"/><circle cx="121.91" cy="107.2" r="1.9"/><circle cx="124.67" cy="105.58" r="1.9"/><circle cx="127.42" cy="103.99" r="1.9"/><circle cx="130.17" cy="102.41" r="1.9"/><circle cx="132.92" cy="100.85" r="1.9"/><circle cx="135.68" cy="99.29" r="1.9"/><circle cx="138.43" cy="97.76" r="1.9"/><circle cx="141.18" cy="96.25" r="1.9"/><circle cx="143.93" cy="94.76" r="1.9"/><circle cx="146.68" cy="93.29" r="1.9"/><circle cx="149.44" cy="91.85" r="1.9"/><circle cx="152.19" cy="90.44" r="1.9"/><circle cx="154.94" cy="89.06" r="1.9"/><circle cx="157.69" cy="87.7" r="1.9"/><circle cx="160.45" cy="86.37" r="1.9"/><circle cx="163.2" cy="85.08" r="1.9"/><circle cx="165.95" cy="83.81" r="1.9"/><circle cx="168.7" cy="82.57" r="1.9"/><circle cx="171.46" cy="81.36" r="1.9"/><circle cx="174.21" cy="80.19" r="1.9"/><circle cx="176.96" cy="79.04" r="1.9"/><circle cx="179.71" cy="77.93" r="1.9"/><circle cx="182.47" cy="76.85" r="1.9"/><circle cx="185.22" cy="75.8" r="1.9"/><circle cx="187.97" cy="74.77" r="1.9"/><circle cx="190.72" cy="73.78" r="1.9"/><circle cx="193.47" cy="72.81" r="1.9"/><circle cx="196.23" cy="71.86" r="1.9"/><circle cx="198.98" cy="70.94" r="1.9"/><circle cx="201.73" cy="70.04" r="1.9"/><circle cx="204.48" cy="69.16" r="1.9"/><circle cx="207.24" cy="68.31" r="1.9"/><circle cx="209.99" cy="67.47" r="1.9"/><circle cx="212.74" cy="66.66" r="1.9"/><circle cx="215.49" cy="65.86" r="1.9"/><circle cx="218.25" cy="65.08" r="1.9"/><circle cx="221" cy="64.31" r="1.9"/><circle cx="223.75" cy="63.56" r="1.9"/><circle cx="226.5" cy="62.82" r="1.9"/><circle cx="229.26" cy="62.1" r="1.9"/><circle cx="232.01" cy="61.38" r="1.9"/><circle cx="234.76" cy="60.68" r="1.9"/><circle cx="237.51" cy="59.99" r="1.9"/><circle cx="240.26" cy="59.32" r="1.9"/><circle cx="243.02" cy="58.65" r="1.9"/><circle cx="245.77" cy="58" r="1.9"/><circle cx="248.52" cy="57.36" r="1.9"/><circle cx="251.27" cy="56.74" r="1.9"/><circle cx="254.03" cy="56.12" r="1.9"/><circle cx="256.78" cy="55.52" r="1.9"/><circle cx="259.53" cy="54.92" r="1.9"/><circle cx="262.28" cy="54.34" r="1.9"/><circle cx="265.04" cy="53.77" r="1.9"/><circle cx="267.79" cy="53.21" r="1.9"/><circle cx="270.54" cy="52.67" r="1.9"/><circle cx="273.29" cy="52.13" r="1.9"/><circle cx="276.05" cy="51.6" r="1.9"/><circle cx="278.8" cy="51.09" r="1.9"/><circle cx="281.55" cy="50.58" r="1.9"/><circle cx="284.3" cy="50.09" r="1.9"/><circle cx="287.05" cy="49.6" r="1.9"/><circle cx="289.81" cy="49.12" r="1.9"/><circle cx="292.56" cy="48.66" r="1.9"/><circle cx="295.31" cy="48.2" r="1.9"/><circle cx="298.06" cy="47.75" r="1.9"/><circle cx="300.82" cy="47.31" r="1.9"/><circle cx="303.57" cy="46.88" r="1.9"/><circle cx="306.32" cy="46.46" r="1.9"/><circle cx="309.07" cy="46.05" r="1.9"/><circle cx="311.83" cy="45.64" r="1.9"/><circle cx="314.58" cy="45.25" r="1.9"/><circle cx="317.33" cy="44.86" r="1.9"/><circle cx="320.08" cy="44.48" r="1.9"/><circle cx="322.84" cy="44.11" r="1.9"/><circle cx="325.59" cy="43.75" r="1.9"/><circle cx="328.34" cy="43.39" r="1.9"/><circle cx="331.09" cy="43.05" r="1.9"/><circle cx="333.84" cy="42.71" r="1.9"/><circle cx="336.6" cy="42.37" r="1.9"/><circle cx="339.35" cy="42.05" r="1.9"/><circle cx="342.1" cy="41.73" r="1.9"/><circle cx="344.85" cy="41.42" r="1.9"/><circle cx="347.61" cy="41.12" r="1.9"/><circle cx="350.36" cy="40.82" r="1.9"/><circle cx="353.11" cy="40.53" r="1.9"/><circle cx="355.86" cy="40.25" r="1.9"/><circle cx="358.62" cy="39.97" r="1.9"/><circle cx="361.37" cy="39.7" r="1.9"/><circle cx="364.12" cy="39.44" r="1.9"/><circle cx="366.87" cy="39.18" r="1.9"/><circle cx="369.63" cy="38.93" r="1.9"/><circle cx="372.38" cy="38.68" r="1.9"/><circle cx="375.13" cy="38.44" r="1.9"/><circle cx="377.88" cy="38.2" r="1.9"/><circle cx="380.63" cy="37.97" r="1.9"/><circle cx="383.39" cy="37.75" r="1.9"/><circle cx="386.14" cy="37.53" r="1.9"/><circle cx="388.89" cy="37.32" r="1.9"/><circle cx="391.64" cy="37.11" r="1.9"/><circle cx="394.4" cy="36.9" r="1.9"/><circle cx="397.15" cy="36.7" r="1.9"/><circle cx="399.9" cy="36.51" r="1.9"/><circle cx="402.65" cy="36.32" r="1.9"/><circle cx="405.41" cy="36.13" r="1.9"/><circle cx="408.16" cy="35.95" r="1.9"/><circle cx="410.91" cy="35.77" r="1.9"/><circle cx="413.66" cy="35.6" r="1.9"/><circle cx="416.42" cy="35.43" r="1.9"/><circle cx="419.17" cy="35.26" r="1.9"/><circle cx="421.92" cy="35.1" r="1.9"/><circle cx="424.67" cy="34.93" r="1.9"/><circle cx="427.42" cy="34.78" r="1.9"/><circle cx="430.18" cy="34.62" r="1.9"/><circle cx="432.93" cy="34.47" r="1.9"/><circle cx="435.68" cy="34.32" r="1.9"/><circle cx="438.43" cy="34.17" r="1.9"/><circle cx="441.19" cy="34.03" r="1.9"/><circle cx="443.94" cy="33.88" r="1.9"/><circle cx="446.69" cy="33.74" r="1.9"/><circle cx="449.44" cy="33.6" r="1.9"/><circle cx="452.2" cy="33.47" r="1.9"/><circle cx="454.95" cy="33.33" r="1.9"/><circle cx="457.7" cy="33.2" r="1.9"/><circle cx="460.45" cy="33.06" r="1.9"/><circle cx="463.21" cy="32.93" r="1.9"/><circle cx="465.96" cy="32.8" r="1.9"/><circle cx="468.71" cy="32.67" r="1.9"/><circle cx="471.46" cy="32.55" r="1.9"/><circle cx="474.21" cy="32.42" r="1.9"/><circle cx="476.97" cy="32.29" r="1.9"/><circle cx="479.72" cy="32.16" r="1.9"/><circle cx="482.47" cy="32.04" r="1.9"/><circle cx="485.22" cy="31.91" r="1.9"/><circle cx="487.98" cy="31.78" r="1.9"/><circle cx="490.73" cy="31.66" r="1.9"/><circle cx="493.48" cy="31.53" r="1.9"/><circle cx="496.23" cy="31.4" r="1.9"/><circle cx="498.99" cy="31.27" r="1.9"/><circle cx="501.74" cy="31.15" r="1.9"/><circle cx="504.49" cy="31.02" r="1.9"/><circle cx="507.24" cy="30.88" r="1.9"/><circle cx="510" cy="30.75" r="1.9"/><circle cx="512.75" cy="30.62" r="1.9"/><circle cx="514.7" cy="30.52" r="1.9"/>
</g>
</g>
<rect x="345.2" y="141.3" width="164.4" height="67.1" fill="#fff" stroke="#4c4c4c" stroke-width="0.9"/>
<line x1="353.3" y1="150.05" x2="368.65" y2="150.05" stroke="#0000ff" stroke-width="0.8"/>
<g fill="#0000ff" stroke="#000070" stroke-width="0.6"><circle cx="353.3" cy="150.05" r="2.0"/><circle cx="368.65" cy="150.05" r="2.0"/></g>
<text x="380.9" y="153.95" font-size="11.1" fill="#222">20-30% brightness pixels</text>
<line x1="353.3" y1="166.15" x2="368.65" y2="166.15" stroke="#008000" stroke-width="0.8"/>
<g fill="#008000" stroke="#003800" stroke-width="0.6"><circle cx="353.3" cy="166.15" r="2.0"/><circle cx="368.65" cy="166.15" r="2.0"/></g>
<text x="380.9" y="170.05" font-size="11.1" fill="#222">40-50% brightness pixels</text>
<line x1="353.3" y1="182.25" x2="368.65" y2="182.25" stroke="#ff0000" stroke-width="0.8"/>
<g fill="#ff0000" stroke="#700000" stroke-width="0.6"><circle cx="353.3" cy="182.25" r="2.0"/><circle cx="368.65" cy="182.25" r="2.0"/></g>
<text x="380.9" y="186.15" font-size="11.1" fill="#222">60-70% brightness pixels</text>
<line x1="353.3" y1="198.35" x2="368.65" y2="198.35" stroke="#00bfbf" stroke-width="0.8"/>
<g fill="#00bfbf" stroke="#005858" stroke-width="0.6"><circle cx="353.3" cy="198.35" r="2.0"/><circle cx="368.65" cy="198.35" r="2.0"/></g>
<text x="380.9" y="202.25" font-size="11.1" fill="#222">80-90% brightness pixels</text>
<path d="M47.6 214.2v-3.2M47.6 12.8v3.2M141.18 214.2v-3.2M141.18 12.8v3.2M234.76 214.2v-3.2M234.76 12.8v3.2M328.34 214.2v-3.2M328.34 12.8v3.2M421.92 214.2v-3.2M421.92 12.8v3.2M515.5 214.2v-3.2M515.5 12.8v3.2M47.6 214.2h3.2M515.5 214.2h-3.2M47.6 189.02h3.2M515.5 189.02h-3.2M47.6 163.85h3.2M515.5 163.85h-3.2M47.6 138.68h3.2M515.5 138.68h-3.2M47.6 113.5h3.2M515.5 113.5h-3.2M47.6 88.33h3.2M515.5 88.33h-3.2M47.6 63.15h3.2M515.5 63.15h-3.2M47.6 37.98h3.2M515.5 37.98h-3.2M47.6 12.8h3.2M515.5 12.8h-3.2" stroke="#000" stroke-width="0.55" fill="none" opacity="0.85"/>
<rect x="47.6" y="12.8" width="467.9" height="201.4" fill="none" stroke="#4c4c4c" stroke-width="1.15"/>
<text transform="translate(44.9 217.5) scale(0.905 1)" font-size="10.5" text-anchor="end" fill="#222">0.0000</text>
<text transform="translate(44.9 192.32) scale(0.905 1)" font-size="10.5" text-anchor="end" fill="#222">0.0002</text>
<text transform="translate(44.9 167.15) scale(0.905 1)" font-size="10.5" text-anchor="end" fill="#222">0.0004</text>
<text transform="translate(44.9 141.98) scale(0.905 1)" font-size="10.5" text-anchor="end" fill="#222">0.0006</text>
<text transform="translate(44.9 116.8) scale(0.905 1)" font-size="10.5" text-anchor="end" fill="#222">0.0008</text>
<text transform="translate(44.9 91.62) scale(0.905 1)" font-size="10.5" text-anchor="end" fill="#222">0.0010</text>
<text transform="translate(44.9 66.45) scale(0.905 1)" font-size="10.5" text-anchor="end" fill="#222">0.0012</text>
<text transform="translate(44.9 41.28) scale(0.905 1)" font-size="10.5" text-anchor="end" fill="#222">0.0014</text>
<text transform="translate(44.9 16.1) scale(0.905 1)" font-size="10.5" text-anchor="end" fill="#222">0.0016</text>
<text transform="translate(47.4 225.4) scale(0.905 1)" font-size="10.5" text-anchor="middle" fill="#222">0.00</text>
<text transform="translate(140.98 225.4) scale(0.905 1)" font-size="10.5" text-anchor="middle" fill="#222">0.02</text>
<text transform="translate(234.56 225.4) scale(0.905 1)" font-size="10.5" text-anchor="middle" fill="#222">0.04</text>
<text transform="translate(328.14 225.4) scale(0.905 1)" font-size="10.5" text-anchor="middle" fill="#222">0.06</text>
<text transform="translate(421.72 225.4) scale(0.905 1)" font-size="10.5" text-anchor="middle" fill="#222">0.08</text>
<text transform="translate(515.3 225.4) scale(0.905 1)" font-size="10.5" text-anchor="middle" fill="#222">0.10</text>
<text x="281.25" y="237.7" font-size="11.15" text-anchor="middle" fill="#222">Seconds</text>
<text x="282.05" y="9.6" font-size="12.55" text-anchor="middle" fill="#222">No AO, 20170531</text>
<text transform="translate(10.1 113.5) rotate(-90)" font-size="11.25" text-anchor="middle" fill="#222">(Standard deviation) / (PSF core intensity)</text>
</g>
<g>
<clipPath id="cp1"><rect x="47.6" y="264.5" width="468.2" height="201.3"/></clipPath>
<g clip-path="url(#cp1)">
<polyline points="50.35,444.64 53.1,442.32 55.86,440.36 58.61,438.41 61.36,436.92 64.11,435.7 66.87,434.41 69.62,433.09 72.37,431.77 75.12,430.51 77.88,429.32 80.63,428.19 83.38,427.03 86.13,425.79 88.89,424.55 91.64,423.33 94.39,422.14 97.14,420.98 99.89,419.83 102.65,418.7 105.4,417.59 108.15,416.49 110.9,415.41 113.66,414.34 116.41,413.28 119.16,412.22 121.91,411.18 124.67,410.14 127.42,409.08 130.17,407.98 132.92,406.84 135.68,405.69 138.43,404.52 141.18,403.36 143.93,402.22 146.68,401.11 149.44,400.04 152.19,399.01 154.94,397.99 157.69,396.98 160.45,395.97 163.2,394.98 165.95,394 168.7,393.03 171.46,392.08 174.21,391.14 176.96,390.22 179.71,389.33 182.47,388.45 185.22,387.61 187.97,386.79 190.72,386.01 193.47,385.25 196.23,384.51 198.98,383.8 201.73,383.11 204.48,382.44 207.24,381.78 209.99,381.15 212.74,380.52 215.49,379.91 218.25,379.31 221,378.71 223.75,378.12 226.5,377.54 229.26,376.96 232.01,376.39 234.76,375.83 237.51,375.29 240.26,374.75 243.02,374.23 245.77,373.72 248.52,373.22 251.27,372.74 254.03,372.28 256.78,371.84 259.53,371.41 262.28,371.01 265.04,370.62 267.79,370.24 270.54,369.87 273.29,369.51 276.05,369.16 278.8,368.82 281.55,368.49 284.3,368.18 287.05,367.86 289.81,367.56 292.56,367.27 295.31,366.98 298.06,366.7 300.82,366.42 303.57,366.16 306.32,365.89 309.07,365.64 311.83,365.39 314.58,365.14 317.33,364.9 320.08,364.67 322.84,364.45 325.59,364.23 328.34,364.01 331.09,363.81 333.84,363.6 336.6,363.41 339.35,363.21 342.1,363.03 344.85,362.84 347.61,362.67 350.36,362.49 353.11,362.32 355.86,362.16 358.62,362 361.37,361.84 364.12,361.69 366.87,361.54 369.63,361.39 372.38,361.25 375.13,361.1 377.88,360.96 380.63,360.81 383.39,360.67 386.14,360.53 388.89,360.4 391.64,360.26 394.4,360.13 397.15,360.01 399.9,359.88 402.65,359.77 405.41,359.65 408.16,359.55 410.91,359.45 413.66,359.36 416.42,359.27 419.17,359.19 421.92,359.12 424.67,359.06 427.42,359.01 430.18,358.95 432.93,358.91 435.68,358.86 438.43,358.82 441.19,358.78 443.94,358.74 446.69,358.71 449.44,358.68 452.2,358.65 454.95,358.62 457.7,358.6 460.45,358.57 463.21,358.55 465.96,358.53 468.71,358.51 471.46,358.5 474.21,358.48 476.97,358.47 479.72,358.46 482.47,358.46 485.22,358.46 487.98,358.46 490.73,358.46 493.48,358.46 496.23,358.47 498.99,358.48 501.74,358.49 504.49,358.5 507.24,358.51 510,358.52 512.75,358.53 514.7,358.54" fill="none" stroke="#0000ff" stroke-width="0.8"/>
<g fill="#0000ff" stroke="#000070" stroke-width="0.6">
<circle cx="50.35" cy="444.64" r="1.9"/><circle cx="53.1" cy="442.32" r="1.9"/><circle cx="55.86" cy="440.36" r="1.9"/><circle cx="58.61" cy="438.41" r="1.9"/><circle cx="61.36" cy="436.92" r="1.9"/><circle cx="64.11" cy="435.7" r="1.9"/><circle cx="66.87" cy="434.41" r="1.9"/><circle cx="69.62" cy="433.09" r="1.9"/><circle cx="72.37" cy="431.77" r="1.9"/><circle cx="75.12" cy="430.51" r="1.9"/><circle cx="77.88" cy="429.32" r="1.9"/><circle cx="80.63" cy="428.19" r="1.9"/><circle cx="83.38" cy="427.03" r="1.9"/><circle cx="86.13" cy="425.79" r="1.9"/><circle cx="88.89" cy="424.55" r="1.9"/><circle cx="91.64" cy="423.33" r="1.9"/><circle cx="94.39" cy="422.14" r="1.9"/><circle cx="97.14" cy="420.98" r="1.9"/><circle cx="99.89" cy="419.83" r="1.9"/><circle cx="102.65" cy="418.7" r="1.9"/><circle cx="105.4" cy="417.59" r="1.9"/><circle cx="108.15" cy="416.49" r="1.9"/><circle cx="110.9" cy="415.41" r="1.9"/><circle cx="113.66" cy="414.34" r="1.9"/><circle cx="116.41" cy="413.28" r="1.9"/><circle cx="119.16" cy="412.22" r="1.9"/><circle cx="121.91" cy="411.18" r="1.9"/><circle cx="124.67" cy="410.14" r="1.9"/><circle cx="127.42" cy="409.08" r="1.9"/><circle cx="130.17" cy="407.98" r="1.9"/><circle cx="132.92" cy="406.84" r="1.9"/><circle cx="135.68" cy="405.69" r="1.9"/><circle cx="138.43" cy="404.52" r="1.9"/><circle cx="141.18" cy="403.36" r="1.9"/><circle cx="143.93" cy="402.22" r="1.9"/><circle cx="146.68" cy="401.11" r="1.9"/><circle cx="149.44" cy="400.04" r="1.9"/><circle cx="152.19" cy="399.01" r="1.9"/><circle cx="154.94" cy="397.99" r="1.9"/><circle cx="157.69" cy="396.98" r="1.9"/><circle cx="160.45" cy="395.97" r="1.9"/><circle cx="163.2" cy="394.98" r="1.9"/><circle cx="165.95" cy="394" r="1.9"/><circle cx="168.7" cy="393.03" r="1.9"/><circle cx="171.46" cy="392.08" r="1.9"/><circle cx="174.21" cy="391.14" r="1.9"/><circle cx="176.96" cy="390.22" r="1.9"/><circle cx="179.71" cy="389.33" r="1.9"/><circle cx="182.47" cy="388.45" r="1.9"/><circle cx="185.22" cy="387.61" r="1.9"/><circle cx="187.97" cy="386.79" r="1.9"/><circle cx="190.72" cy="386.01" r="1.9"/><circle cx="193.47" cy="385.25" r="1.9"/><circle cx="196.23" cy="384.51" r="1.9"/><circle cx="198.98" cy="383.8" r="1.9"/><circle cx="201.73" cy="383.11" r="1.9"/><circle cx="204.48" cy="382.44" r="1.9"/><circle cx="207.24" cy="381.78" r="1.9"/><circle cx="209.99" cy="381.15" r="1.9"/><circle cx="212.74" cy="380.52" r="1.9"/><circle cx="215.49" cy="379.91" r="1.9"/><circle cx="218.25" cy="379.31" r="1.9"/><circle cx="221" cy="378.71" r="1.9"/><circle cx="223.75" cy="378.12" r="1.9"/><circle cx="226.5" cy="377.54" r="1.9"/><circle cx="229.26" cy="376.96" r="1.9"/><circle cx="232.01" cy="376.39" r="1.9"/><circle cx="234.76" cy="375.83" r="1.9"/><circle cx="237.51" cy="375.29" r="1.9"/><circle cx="240.26" cy="374.75" r="1.9"/><circle cx="243.02" cy="374.23" r="1.9"/><circle cx="245.77" cy="373.72" r="1.9"/><circle cx="248.52" cy="373.22" r="1.9"/><circle cx="251.27" cy="372.74" r="1.9"/><circle cx="254.03" cy="372.28" r="1.9"/><circle cx="256.78" cy="371.84" r="1.9"/><circle cx="259.53" cy="371.41" r="1.9"/><circle cx="262.28" cy="371.01" r="1.9"/><circle cx="265.04" cy="370.62" r="1.9"/><circle cx="267.79" cy="370.24" r="1.9"/><circle cx="270.54" cy="369.87" r="1.9"/><circle cx="273.29" cy="369.51" r="1.9"/><circle cx="276.05" cy="369.16" r="1.9"/><circle cx="278.8" cy="368.82" r="1.9"/><circle cx="281.55" cy="368.49" r="1.9"/><circle cx="284.3" cy="368.18" r="1.9"/><circle cx="287.05" cy="367.86" r="1.9"/><circle cx="289.81" cy="367.56" r="1.9"/><circle cx="292.56" cy="367.27" r="1.9"/><circle cx="295.31" cy="366.98" r="1.9"/><circle cx="298.06" cy="366.7" r="1.9"/><circle cx="300.82" cy="366.42" r="1.9"/><circle cx="303.57" cy="366.16" r="1.9"/><circle cx="306.32" cy="365.89" r="1.9"/><circle cx="309.07" cy="365.64" r="1.9"/><circle cx="311.83" cy="365.39" r="1.9"/><circle cx="314.58" cy="365.14" r="1.9"/><circle cx="317.33" cy="364.9" r="1.9"/><circle cx="320.08" cy="364.67" r="1.9"/><circle cx="322.84" cy="364.45" r="1.9"/><circle cx="325.59" cy="364.23" r="1.9"/><circle cx="328.34" cy="364.01" r="1.9"/><circle cx="331.09" cy="363.81" r="1.9"/><circle cx="333.84" cy="363.6" r="1.9"/><circle cx="336.6" cy="363.41" r="1.9"/><circle cx="339.35" cy="363.21" r="1.9"/><circle cx="342.1" cy="363.03" r="1.9"/><circle cx="344.85" cy="362.84" r="1.9"/><circle cx="347.61" cy="362.67" r="1.9"/><circle cx="350.36" cy="362.49" r="1.9"/><circle cx="353.11" cy="362.32" r="1.9"/><circle cx="355.86" cy="362.16" r="1.9"/><circle cx="358.62" cy="362" r="1.9"/><circle cx="361.37" cy="361.84" r="1.9"/><circle cx="364.12" cy="361.69" r="1.9"/><circle cx="366.87" cy="361.54" r="1.9"/><circle cx="369.63" cy="361.39" r="1.9"/><circle cx="372.38" cy="361.25" r="1.9"/><circle cx="375.13" cy="361.1" r="1.9"/><circle cx="377.88" cy="360.96" r="1.9"/><circle cx="380.63" cy="360.81" r="1.9"/><circle cx="383.39" cy="360.67" r="1.9"/><circle cx="386.14" cy="360.53" r="1.9"/><circle cx="388.89" cy="360.4" r="1.9"/><circle cx="391.64" cy="360.26" r="1.9"/><circle cx="394.4" cy="360.13" r="1.9"/><circle cx="397.15" cy="360.01" r="1.9"/><circle cx="399.9" cy="359.88" r="1.9"/><circle cx="402.65" cy="359.77" r="1.9"/><circle cx="405.41" cy="359.65" r="1.9"/><circle cx="408.16" cy="359.55" r="1.9"/><circle cx="410.91" cy="359.45" r="1.9"/><circle cx="413.66" cy="359.36" r="1.9"/><circle cx="416.42" cy="359.27" r="1.9"/><circle cx="419.17" cy="359.19" r="1.9"/><circle cx="421.92" cy="359.12" r="1.9"/><circle cx="424.67" cy="359.06" r="1.9"/><circle cx="427.42" cy="359.01" r="1.9"/><circle cx="430.18" cy="358.95" r="1.9"/><circle cx="432.93" cy="358.91" r="1.9"/><circle cx="435.68" cy="358.86" r="1.9"/><circle cx="438.43" cy="358.82" r="1.9"/><circle cx="441.19" cy="358.78" r="1.9"/><circle cx="443.94" cy="358.74" r="1.9"/><circle cx="446.69" cy="358.71" r="1.9"/><circle cx="449.44" cy="358.68" r="1.9"/><circle cx="452.2" cy="358.65" r="1.9"/><circle cx="454.95" cy="358.62" r="1.9"/><circle cx="457.7" cy="358.6" r="1.9"/><circle cx="460.45" cy="358.57" r="1.9"/><circle cx="463.21" cy="358.55" r="1.9"/><circle cx="465.96" cy="358.53" r="1.9"/><circle cx="468.71" cy="358.51" r="1.9"/><circle cx="471.46" cy="358.5" r="1.9"/><circle cx="474.21" cy="358.48" r="1.9"/><circle cx="476.97" cy="358.47" r="1.9"/><circle cx="479.72" cy="358.46" r="1.9"/><circle cx="482.47" cy="358.46" r="1.9"/><circle cx="485.22" cy="358.46" r="1.9"/><circle cx="487.98" cy="358.46" r="1.9"/><circle cx="490.73" cy="358.46" r="1.9"/><circle cx="493.48" cy="358.46" r="1.9"/><circle cx="496.23" cy="358.47" r="1.9"/><circle cx="498.99" cy="358.48" r="1.9"/><circle cx="501.74" cy="358.49" r="1.9"/><circle cx="504.49" cy="358.5" r="1.9"/><circle cx="507.24" cy="358.51" r="1.9"/><circle cx="510" cy="358.52" r="1.9"/><circle cx="512.75" cy="358.53" r="1.9"/><circle cx="514.7" cy="358.54" r="1.9"/>
</g>
<polyline points="50.35,440.68 53.1,436.88 55.86,434.35 58.61,432.01 61.36,429.91 64.11,428.12 66.87,426.38 69.62,424.6 72.37,422.85 75.12,421.17 77.88,419.63 80.63,418.17 83.38,416.67 86.13,415.02 88.89,413.35 91.64,411.72 94.39,410.12 97.14,408.55 99.89,407.01 102.65,405.5 105.4,404.03 108.15,402.6 110.9,401.2 113.66,399.84 116.41,398.52 119.16,397.24 121.91,396 124.67,394.81 127.42,393.66 130.17,392.52 132.92,391.41 135.68,390.31 138.43,389.22 141.18,388.14 143.93,387.07 146.68,386 149.44,384.92 152.19,383.85 154.94,382.78 157.69,381.72 160.45,380.67 163.2,379.63 165.95,378.6 168.7,377.59 171.46,376.59 174.21,375.61 176.96,374.65 179.71,373.72 182.47,372.8 185.22,371.91 187.97,371.04 190.72,370.19 193.47,369.37 196.23,368.58 198.98,367.81 201.73,367.07 204.48,366.35 207.24,365.65 209.99,364.98 212.74,364.33 215.49,363.7 218.25,363.09 221,362.5 223.75,361.93 226.5,361.38 229.26,360.84 232.01,360.32 234.76,359.81 237.51,359.32 240.26,358.83 243.02,358.36 245.77,357.9 248.52,357.45 251.27,357.01 254.03,356.58 256.78,356.15 259.53,355.73 262.28,355.32 265.04,354.9 267.79,354.49 270.54,354.08 273.29,353.67 276.05,353.27 278.8,352.87 281.55,352.48 284.3,352.1 287.05,351.72 289.81,351.36 292.56,351.01 295.31,350.68 298.06,350.36 300.82,350.05 303.57,349.76 306.32,349.5 309.07,349.25 311.83,349.02 314.58,348.81 317.33,348.6 320.08,348.41 322.84,348.23 325.59,348.05 328.34,347.89 331.09,347.73 333.84,347.58 336.6,347.44 339.35,347.3 342.1,347.17 344.85,347.04 347.61,346.92 350.36,346.79 353.11,346.68 355.86,346.56 358.62,346.45 361.37,346.33 364.12,346.22 366.87,346.1 369.63,345.99 372.38,345.87 375.13,345.75 377.88,345.63 380.63,345.52 383.39,345.4 386.14,345.29 388.89,345.17 391.64,345.06 394.4,344.95 397.15,344.85 399.9,344.74 402.65,344.65 405.41,344.55 408.16,344.46 410.91,344.37 413.66,344.29 416.42,344.21 419.17,344.14 421.92,344.08 424.67,344.02 427.42,343.97 430.18,343.92 432.93,343.87 435.68,343.82 438.43,343.78 441.19,343.73 443.94,343.69 446.69,343.65 449.44,343.61 452.2,343.58 454.95,343.54 457.7,343.51 460.45,343.47 463.21,343.44 465.96,343.41 468.71,343.38 471.46,343.35 474.21,343.32 476.97,343.29 479.72,343.27 482.47,343.24 485.22,343.21 487.98,343.19 490.73,343.16 493.48,343.13 496.23,343.11 498.99,343.08 501.74,343.05 504.49,343.03 507.24,343 510,342.97 512.75,342.94 514.7,342.92" fill="none" stroke="#008000" stroke-width="0.8"/>
<g fill="#008000" stroke="#003800" stroke-width="0.6">
<circle cx="50.35" cy="440.68" r="1.9"/><circle cx="53.1" cy="436.88" r="1.9"/><circle cx="55.86" cy="434.35" r="1.9"/><circle cx="58.61" cy="432.01" r="1.9"/><circle cx="61.36" cy="429.91" r="1.9"/><circle cx="64.11" cy="428.12" r="1.9"/><circle cx="66.87" cy="426.38" r="1.9"/><circle cx="69.62" cy="424.6" r="1.9"/><circle cx="72.37" cy="422.85" r="1.9"/><circle cx="75.12" cy="421.17" r="1.9"/><circle cx="77.88" cy="419.63" r="1.9"/><circle cx="80.63" cy="418.17" r="1.9"/><circle cx="83.38" cy="416.67" r="1.9"/><circle cx="86.13" cy="415.02" r="1.9"/><circle cx="88.89" cy="413.35" r="1.9"/><circle cx="91.64" cy="411.72" r="1.9"/><circle cx="94.39" cy="410.12" r="1.9"/><circle cx="97.14" cy="408.55" r="1.9"/><circle cx="99.89" cy="407.01" r="1.9"/><circle cx="102.65" cy="405.5" r="1.9"/><circle cx="105.4" cy="404.03" r="1.9"/><circle cx="108.15" cy="402.6" r="1.9"/><circle cx="110.9" cy="401.2" r="1.9"/><circle cx="113.66" cy="399.84" r="1.9"/><circle cx="116.41" cy="398.52" r="1.9"/><circle cx="119.16" cy="397.24" r="1.9"/><circle cx="121.91" cy="396" r="1.9"/><circle cx="124.67" cy="394.81" r="1.9"/><circle cx="127.42" cy="393.66" r="1.9"/><circle cx="130.17" cy="392.52" r="1.9"/><circle cx="132.92" cy="391.41" r="1.9"/><circle cx="135.68" cy="390.31" r="1.9"/><circle cx="138.43" cy="389.22" r="1.9"/><circle cx="141.18" cy="388.14" r="1.9"/><circle cx="143.93" cy="387.07" r="1.9"/><circle cx="146.68" cy="386" r="1.9"/><circle cx="149.44" cy="384.92" r="1.9"/><circle cx="152.19" cy="383.85" r="1.9"/><circle cx="154.94" cy="382.78" r="1.9"/><circle cx="157.69" cy="381.72" r="1.9"/><circle cx="160.45" cy="380.67" r="1.9"/><circle cx="163.2" cy="379.63" r="1.9"/><circle cx="165.95" cy="378.6" r="1.9"/><circle cx="168.7" cy="377.59" r="1.9"/><circle cx="171.46" cy="376.59" r="1.9"/><circle cx="174.21" cy="375.61" r="1.9"/><circle cx="176.96" cy="374.65" r="1.9"/><circle cx="179.71" cy="373.72" r="1.9"/><circle cx="182.47" cy="372.8" r="1.9"/><circle cx="185.22" cy="371.91" r="1.9"/><circle cx="187.97" cy="371.04" r="1.9"/><circle cx="190.72" cy="370.19" r="1.9"/><circle cx="193.47" cy="369.37" r="1.9"/><circle cx="196.23" cy="368.58" r="1.9"/><circle cx="198.98" cy="367.81" r="1.9"/><circle cx="201.73" cy="367.07" r="1.9"/><circle cx="204.48" cy="366.35" r="1.9"/><circle cx="207.24" cy="365.65" r="1.9"/><circle cx="209.99" cy="364.98" r="1.9"/><circle cx="212.74" cy="364.33" r="1.9"/><circle cx="215.49" cy="363.7" r="1.9"/><circle cx="218.25" cy="363.09" r="1.9"/><circle cx="221" cy="362.5" r="1.9"/><circle cx="223.75" cy="361.93" r="1.9"/><circle cx="226.5" cy="361.38" r="1.9"/><circle cx="229.26" cy="360.84" r="1.9"/><circle cx="232.01" cy="360.32" r="1.9"/><circle cx="234.76" cy="359.81" r="1.9"/><circle cx="237.51" cy="359.32" r="1.9"/><circle cx="240.26" cy="358.83" r="1.9"/><circle cx="243.02" cy="358.36" r="1.9"/><circle cx="245.77" cy="357.9" r="1.9"/><circle cx="248.52" cy="357.45" r="1.9"/><circle cx="251.27" cy="357.01" r="1.9"/><circle cx="254.03" cy="356.58" r="1.9"/><circle cx="256.78" cy="356.15" r="1.9"/><circle cx="259.53" cy="355.73" r="1.9"/><circle cx="262.28" cy="355.32" r="1.9"/><circle cx="265.04" cy="354.9" r="1.9"/><circle cx="267.79" cy="354.49" r="1.9"/><circle cx="270.54" cy="354.08" r="1.9"/><circle cx="273.29" cy="353.67" r="1.9"/><circle cx="276.05" cy="353.27" r="1.9"/><circle cx="278.8" cy="352.87" r="1.9"/><circle cx="281.55" cy="352.48" r="1.9"/><circle cx="284.3" cy="352.1" r="1.9"/><circle cx="287.05" cy="351.72" r="1.9"/><circle cx="289.81" cy="351.36" r="1.9"/><circle cx="292.56" cy="351.01" r="1.9"/><circle cx="295.31" cy="350.68" r="1.9"/><circle cx="298.06" cy="350.36" r="1.9"/><circle cx="300.82" cy="350.05" r="1.9"/><circle cx="303.57" cy="349.76" r="1.9"/><circle cx="306.32" cy="349.5" r="1.9"/><circle cx="309.07" cy="349.25" r="1.9"/><circle cx="311.83" cy="349.02" r="1.9"/><circle cx="314.58" cy="348.81" r="1.9"/><circle cx="317.33" cy="348.6" r="1.9"/><circle cx="320.08" cy="348.41" r="1.9"/><circle cx="322.84" cy="348.23" r="1.9"/><circle cx="325.59" cy="348.05" r="1.9"/><circle cx="328.34" cy="347.89" r="1.9"/><circle cx="331.09" cy="347.73" r="1.9"/><circle cx="333.84" cy="347.58" r="1.9"/><circle cx="336.6" cy="347.44" r="1.9"/><circle cx="339.35" cy="347.3" r="1.9"/><circle cx="342.1" cy="347.17" r="1.9"/><circle cx="344.85" cy="347.04" r="1.9"/><circle cx="347.61" cy="346.92" r="1.9"/><circle cx="350.36" cy="346.79" r="1.9"/><circle cx="353.11" cy="346.68" r="1.9"/><circle cx="355.86" cy="346.56" r="1.9"/><circle cx="358.62" cy="346.45" r="1.9"/><circle cx="361.37" cy="346.33" r="1.9"/><circle cx="364.12" cy="346.22" r="1.9"/><circle cx="366.87" cy="346.1" r="1.9"/><circle cx="369.63" cy="345.99" r="1.9"/><circle cx="372.38" cy="345.87" r="1.9"/><circle cx="375.13" cy="345.75" r="1.9"/><circle cx="377.88" cy="345.63" r="1.9"/><circle cx="380.63" cy="345.52" r="1.9"/><circle cx="383.39" cy="345.4" r="1.9"/><circle cx="386.14" cy="345.29" r="1.9"/><circle cx="388.89" cy="345.17" r="1.9"/><circle cx="391.64" cy="345.06" r="1.9"/><circle cx="394.4" cy="344.95" r="1.9"/><circle cx="397.15" cy="344.85" r="1.9"/><circle cx="399.9" cy="344.74" r="1.9"/><circle cx="402.65" cy="344.65" r="1.9"/><circle cx="405.41" cy="344.55" r="1.9"/><circle cx="408.16" cy="344.46" r="1.9"/><circle cx="410.91" cy="344.37" r="1.9"/><circle cx="413.66" cy="344.29" r="1.9"/><circle cx="416.42" cy="344.21" r="1.9"/><circle cx="419.17" cy="344.14" r="1.9"/><circle cx="421.92" cy="344.08" r="1.9"/><circle cx="424.67" cy="344.02" r="1.9"/><circle cx="427.42" cy="343.97" r="1.9"/><circle cx="430.18" cy="343.92" r="1.9"/><circle cx="432.93" cy="343.87" r="1.9"/><circle cx="435.68" cy="343.82" r="1.9"/><circle cx="438.43" cy="343.78" r="1.9"/><circle cx="441.19" cy="343.73" r="1.9"/><circle cx="443.94" cy="343.69" r="1.9"/><circle cx="446.69" cy="343.65" r="1.9"/><circle cx="449.44" cy="343.61" r="1.9"/><circle cx="452.2" cy="343.58" r="1.9"/><circle cx="454.95" cy="343.54" r="1.9"/><circle cx="457.7" cy="343.51" r="1.9"/><circle cx="460.45" cy="343.47" r="1.9"/><circle cx="463.21" cy="343.44" r="1.9"/><circle cx="465.96" cy="343.41" r="1.9"/><circle cx="468.71" cy="343.38" r="1.9"/><circle cx="471.46" cy="343.35" r="1.9"/><circle cx="474.21" cy="343.32" r="1.9"/><circle cx="476.97" cy="343.29" r="1.9"/><circle cx="479.72" cy="343.27" r="1.9"/><circle cx="482.47" cy="343.24" r="1.9"/><circle cx="485.22" cy="343.21" r="1.9"/><circle cx="487.98" cy="343.19" r="1.9"/><circle cx="490.73" cy="343.16" r="1.9"/><circle cx="493.48" cy="343.13" r="1.9"/><circle cx="496.23" cy="343.11" r="1.9"/><circle cx="498.99" cy="343.08" r="1.9"/><circle cx="501.74" cy="343.05" r="1.9"/><circle cx="504.49" cy="343.03" r="1.9"/><circle cx="507.24" cy="343" r="1.9"/><circle cx="510" cy="342.97" r="1.9"/><circle cx="512.75" cy="342.94" r="1.9"/><circle cx="514.7" cy="342.92" r="1.9"/>
</g>
<polyline points="50.35,435.5 53.1,430.43 55.86,426.53 58.61,423.6 61.36,420.93 64.11,418.45 66.87,415.76 69.62,413.18 72.37,410.71 75.12,408.31 77.88,406 80.63,403.77 83.38,401.58 86.13,399.39 88.89,397.25 91.64,395.17 94.39,393.16 97.14,391.21 99.89,389.32 102.65,387.49 105.4,385.71 108.15,383.99 110.9,382.31 113.66,380.69 116.41,379.11 119.16,377.58 121.91,376.09 124.67,374.64 127.42,373.28 130.17,372.02 132.92,370.79 135.68,369.5 138.43,368.17 141.18,366.81 143.93,365.47 146.68,364.17 149.44,362.94 152.19,361.79 154.94,360.68 157.69,359.61 160.45,358.57 163.2,357.57 165.95,356.6 168.7,355.65 171.46,354.72 174.21,353.82 176.96,352.94 179.71,352.06 182.47,351.21 185.22,350.38 187.97,349.56 190.72,348.77 193.47,348 196.23,347.25 198.98,346.52 201.73,345.81 204.48,345.12 207.24,344.45 209.99,343.8 212.74,343.14 215.49,342.47 218.25,341.81 221,341.19 223.75,340.6 226.5,340.03 229.26,339.48 232.01,338.95 234.76,338.43 237.51,337.94 240.26,337.46 243.02,337 245.77,336.55 248.52,336.12 251.27,335.71 254.03,335.32 256.78,334.94 259.53,334.57 262.28,334.22 265.04,333.88 267.79,333.55 270.54,333.22 273.29,332.91 276.05,332.61 278.8,332.32 281.55,332.04 284.3,331.76 287.05,331.5 289.81,331.25 292.56,331 295.31,330.76 298.06,330.53 300.82,330.31 303.57,330.1 306.32,329.9 309.07,329.71 311.83,329.52 314.58,329.35 317.33,329.19 320.08,329.04 322.84,328.9 325.59,328.77 328.34,328.65 331.09,328.53 333.84,328.42 336.6,328.32 339.35,328.22 342.1,328.13 344.85,328.03 347.61,327.95 350.36,327.86 353.11,327.77 355.86,327.69 358.62,327.6 361.37,327.51 364.12,327.42 366.87,327.33 369.63,327.24 372.38,327.14 375.13,327.04 377.88,326.94 380.63,326.84 383.39,326.75 386.14,326.65 388.89,326.55 391.64,326.46 394.4,326.37 397.15,326.27 399.9,326.18 402.65,326.1 405.41,326.01 408.16,325.93 410.91,325.84 413.66,325.76 416.42,325.69 419.17,325.61 421.92,325.54 424.67,325.48 427.42,325.41 430.18,325.35 432.93,325.28 435.68,325.22 438.43,325.16 441.19,325.09 443.94,325.04 446.69,324.98 449.44,324.92 452.2,324.87 454.95,324.81 457.7,324.76 460.45,324.71 463.21,324.67 465.96,324.63 468.71,324.59 471.46,324.55 474.21,324.51 476.97,324.48 479.72,324.45 482.47,324.43 485.22,324.4 487.98,324.38 490.73,324.36 493.48,324.34 496.23,324.32 498.99,324.31 501.74,324.3 504.49,324.28 507.24,324.27 510,324.26 512.75,324.25 514.7,324.24" fill="none" stroke="#ff0000" stroke-width="0.8"/>
<g fill="#ff0000" stroke="#700000" stroke-width="0.6">
<circle cx="50.35" cy="435.5" r="1.9"/><circle cx="53.1" cy="430.43" r="1.9"/><circle cx="55.86" cy="426.53" r="1.9"/><circle cx="58.61" cy="423.6" r="1.9"/><circle cx="61.36" cy="420.93" r="1.9"/><circle cx="64.11" cy="418.45" r="1.9"/><circle cx="66.87" cy="415.76" r="1.9"/><circle cx="69.62" cy="413.18" r="1.9"/><circle cx="72.37" cy="410.71" r="1.9"/><circle cx="75.12" cy="408.31" r="1.9"/><circle cx="77.88" cy="406" r="1.9"/><circle cx="80.63" cy="403.77" r="1.9"/><circle cx="83.38" cy="401.58" r="1.9"/><circle cx="86.13" cy="399.39" r="1.9"/><circle cx="88.89" cy="397.25" r="1.9"/><circle cx="91.64" cy="395.17" r="1.9"/><circle cx="94.39" cy="393.16" r="1.9"/><circle cx="97.14" cy="391.21" r="1.9"/><circle cx="99.89" cy="389.32" r="1.9"/><circle cx="102.65" cy="387.49" r="1.9"/><circle cx="105.4" cy="385.71" r="1.9"/><circle cx="108.15" cy="383.99" r="1.9"/><circle cx="110.9" cy="382.31" r="1.9"/><circle cx="113.66" cy="380.69" r="1.9"/><circle cx="116.41" cy="379.11" r="1.9"/><circle cx="119.16" cy="377.58" r="1.9"/><circle cx="121.91" cy="376.09" r="1.9"/><circle cx="124.67" cy="374.64" r="1.9"/><circle cx="127.42" cy="373.28" r="1.9"/><circle cx="130.17" cy="372.02" r="1.9"/><circle cx="132.92" cy="370.79" r="1.9"/><circle cx="135.68" cy="369.5" r="1.9"/><circle cx="138.43" cy="368.17" r="1.9"/><circle cx="141.18" cy="366.81" r="1.9"/><circle cx="143.93" cy="365.47" r="1.9"/><circle cx="146.68" cy="364.17" r="1.9"/><circle cx="149.44" cy="362.94" r="1.9"/><circle cx="152.19" cy="361.79" r="1.9"/><circle cx="154.94" cy="360.68" r="1.9"/><circle cx="157.69" cy="359.61" r="1.9"/><circle cx="160.45" cy="358.57" r="1.9"/><circle cx="163.2" cy="357.57" r="1.9"/><circle cx="165.95" cy="356.6" r="1.9"/><circle cx="168.7" cy="355.65" r="1.9"/><circle cx="171.46" cy="354.72" r="1.9"/><circle cx="174.21" cy="353.82" r="1.9"/><circle cx="176.96" cy="352.94" r="1.9"/><circle cx="179.71" cy="352.06" r="1.9"/><circle cx="182.47" cy="351.21" r="1.9"/><circle cx="185.22" cy="350.38" r="1.9"/><circle cx="187.97" cy="349.56" r="1.9"/><circle cx="190.72" cy="348.77" r="1.9"/><circle cx="193.47" cy="348" r="1.9"/><circle cx="196.23" cy="347.25" r="1.9"/><circle cx="198.98" cy="346.52" r="1.9"/><circle cx="201.73" cy="345.81" r="1.9"/><circle cx="204.48" cy="345.12" r="1.9"/><circle cx="207.24" cy="344.45" r="1.9"/><circle cx="209.99" cy="343.8" r="1.9"/><circle cx="212.74" cy="343.14" r="1.9"/><circle cx="215.49" cy="342.47" r="1.9"/><circle cx="218.25" cy="341.81" r="1.9"/><circle cx="221" cy="341.19" r="1.9"/><circle cx="223.75" cy="340.6" r="1.9"/><circle cx="226.5" cy="340.03" r="1.9"/><circle cx="229.26" cy="339.48" r="1.9"/><circle cx="232.01" cy="338.95" r="1.9"/><circle cx="234.76" cy="338.43" r="1.9"/><circle cx="237.51" cy="337.94" r="1.9"/><circle cx="240.26" cy="337.46" r="1.9"/><circle cx="243.02" cy="337" r="1.9"/><circle cx="245.77" cy="336.55" r="1.9"/><circle cx="248.52" cy="336.12" r="1.9"/><circle cx="251.27" cy="335.71" r="1.9"/><circle cx="254.03" cy="335.32" r="1.9"/><circle cx="256.78" cy="334.94" r="1.9"/><circle cx="259.53" cy="334.57" r="1.9"/><circle cx="262.28" cy="334.22" r="1.9"/><circle cx="265.04" cy="333.88" r="1.9"/><circle cx="267.79" cy="333.55" r="1.9"/><circle cx="270.54" cy="333.22" r="1.9"/><circle cx="273.29" cy="332.91" r="1.9"/><circle cx="276.05" cy="332.61" r="1.9"/><circle cx="278.8" cy="332.32" r="1.9"/><circle cx="281.55" cy="332.04" r="1.9"/><circle cx="284.3" cy="331.76" r="1.9"/><circle cx="287.05" cy="331.5" r="1.9"/><circle cx="289.81" cy="331.25" r="1.9"/><circle cx="292.56" cy="331" r="1.9"/><circle cx="295.31" cy="330.76" r="1.9"/><circle cx="298.06" cy="330.53" r="1.9"/><circle cx="300.82" cy="330.31" r="1.9"/><circle cx="303.57" cy="330.1" r="1.9"/><circle cx="306.32" cy="329.9" r="1.9"/><circle cx="309.07" cy="329.71" r="1.9"/><circle cx="311.83" cy="329.52" r="1.9"/><circle cx="314.58" cy="329.35" r="1.9"/><circle cx="317.33" cy="329.19" r="1.9"/><circle cx="320.08" cy="329.04" r="1.9"/><circle cx="322.84" cy="328.9" r="1.9"/><circle cx="325.59" cy="328.77" r="1.9"/><circle cx="328.34" cy="328.65" r="1.9"/><circle cx="331.09" cy="328.53" r="1.9"/><circle cx="333.84" cy="328.42" r="1.9"/><circle cx="336.6" cy="328.32" r="1.9"/><circle cx="339.35" cy="328.22" r="1.9"/><circle cx="342.1" cy="328.13" r="1.9"/><circle cx="344.85" cy="328.03" r="1.9"/><circle cx="347.61" cy="327.95" r="1.9"/><circle cx="350.36" cy="327.86" r="1.9"/><circle cx="353.11" cy="327.77" r="1.9"/><circle cx="355.86" cy="327.69" r="1.9"/><circle cx="358.62" cy="327.6" r="1.9"/><circle cx="361.37" cy="327.51" r="1.9"/><circle cx="364.12" cy="327.42" r="1.9"/><circle cx="366.87" cy="327.33" r="1.9"/><circle cx="369.63" cy="327.24" r="1.9"/><circle cx="372.38" cy="327.14" r="1.9"/><circle cx="375.13" cy="327.04" r="1.9"/><circle cx="377.88" cy="326.94" r="1.9"/><circle cx="380.63" cy="326.84" r="1.9"/><circle cx="383.39" cy="326.75" r="1.9"/><circle cx="386.14" cy="326.65" r="1.9"/><circle cx="388.89" cy="326.55" r="1.9"/><circle cx="391.64" cy="326.46" r="1.9"/><circle cx="394.4" cy="326.37" r="1.9"/><circle cx="397.15" cy="326.27" r="1.9"/><circle cx="399.9" cy="326.18" r="1.9"/><circle cx="402.65" cy="326.1" r="1.9"/><circle cx="405.41" cy="326.01" r="1.9"/><circle cx="408.16" cy="325.93" r="1.9"/><circle cx="410.91" cy="325.84" r="1.9"/><circle cx="413.66" cy="325.76" r="1.9"/><circle cx="416.42" cy="325.69" r="1.9"/><circle cx="419.17" cy="325.61" r="1.9"/><circle cx="421.92" cy="325.54" r="1.9"/><circle cx="424.67" cy="325.48" r="1.9"/><circle cx="427.42" cy="325.41" r="1.9"/><circle cx="430.18" cy="325.35" r="1.9"/><circle cx="432.93" cy="325.28" r="1.9"/><circle cx="435.68" cy="325.22" r="1.9"/><circle cx="438.43" cy="325.16" r="1.9"/><circle cx="441.19" cy="325.09" r="1.9"/><circle cx="443.94" cy="325.04" r="1.9"/><circle cx="446.69" cy="324.98" r="1.9"/><circle cx="449.44" cy="324.92" r="1.9"/><circle cx="452.2" cy="324.87" r="1.9"/><circle cx="454.95" cy="324.81" r="1.9"/><circle cx="457.7" cy="324.76" r="1.9"/><circle cx="460.45" cy="324.71" r="1.9"/><circle cx="463.21" cy="324.67" r="1.9"/><circle cx="465.96" cy="324.63" r="1.9"/><circle cx="468.71" cy="324.59" r="1.9"/><circle cx="471.46" cy="324.55" r="1.9"/><circle cx="474.21" cy="324.51" r="1.9"/><circle cx="476.97" cy="324.48" r="1.9"/><circle cx="479.72" cy="324.45" r="1.9"/><circle cx="482.47" cy="324.43" r="1.9"/><circle cx="485.22" cy="324.4" r="1.9"/><circle cx="487.98" cy="324.38" r="1.9"/><circle cx="490.73" cy="324.36" r="1.9"/><circle cx="493.48" cy="324.34" r="1.9"/><circle cx="496.23" cy="324.32" r="1.9"/><circle cx="498.99" cy="324.31" r="1.9"/><circle cx="501.74" cy="324.3" r="1.9"/><circle cx="504.49" cy="324.28" r="1.9"/><circle cx="507.24" cy="324.27" r="1.9"/><circle cx="510" cy="324.26" r="1.9"/><circle cx="512.75" cy="324.25" r="1.9"/><circle cx="514.7" cy="324.24" r="1.9"/>
</g>
<polyline points="50.35,425.59 53.1,416.31 55.86,409.88 58.61,404.98 61.36,400.56 64.11,395.6 66.87,391.09 69.62,386.87 72.37,382.82 75.12,378.91 77.88,375.15 80.63,371.52 83.38,368.02 86.13,364.65 88.89,361.39 91.64,358.24 94.39,355.21 97.14,352.29 99.89,349.48 102.65,346.78 105.4,344.19 108.15,341.71 110.9,339.35 113.66,337.13 116.41,335.07 119.16,333.13 121.91,331.31 124.67,329.57 127.42,327.9 130.17,326.28 132.92,324.68 135.68,323.1 138.43,321.56 141.18,320.08 143.93,318.66 146.68,317.28 149.44,315.95 152.19,314.67 154.94,313.43 157.69,312.23 160.45,311.08 163.2,309.95 165.95,308.84 168.7,307.77 171.46,306.73 174.21,305.73 176.96,304.77 179.71,303.87 182.47,303.02 185.22,302.23 187.97,301.5 190.72,300.84 193.47,300.22 196.23,299.65 198.98,299.11 201.73,298.6 204.48,298.12 207.24,297.64 209.99,297.18 212.74,296.72 215.49,296.29 218.25,295.87 221,295.48 223.75,295.11 226.5,294.76 229.26,294.43 232.01,294.12 234.76,293.82 237.51,293.54 240.26,293.28 243.02,293.03 245.77,292.8 248.52,292.58 251.27,292.38 254.03,292.19 256.78,292.01 259.53,291.84 262.28,291.68 265.04,291.53 267.79,291.38 270.54,291.23 273.29,291.09 276.05,290.95 278.8,290.81 281.55,290.68 284.3,290.55 287.05,290.42 289.81,290.3 292.56,290.18 295.31,290.07 298.06,289.97 300.82,289.87 303.57,289.78 306.32,289.69 309.07,289.62 311.83,289.55 314.58,289.49 317.33,289.42 320.08,289.36 322.84,289.3 325.59,289.25 328.34,289.19 331.09,289.14 333.84,289.09 336.6,289.04 339.35,288.99 342.1,288.95 344.85,288.91 347.61,288.86 350.36,288.82 353.11,288.79 355.86,288.75 358.62,288.71 361.37,288.68 364.12,288.65 366.87,288.61 369.63,288.58 372.38,288.55 375.13,288.51 377.88,288.47 380.63,288.42 383.39,288.37 386.14,288.32 388.89,288.26 391.64,288.2 394.4,288.14 397.15,288.08 399.9,288.02 402.65,287.97 405.41,287.91 408.16,287.86 410.91,287.8 413.66,287.76 416.42,287.72 419.17,287.68 421.92,287.65 424.67,287.62 427.42,287.6 430.18,287.59 432.93,287.57 435.68,287.56 438.43,287.55 441.19,287.53 443.94,287.52 446.69,287.52 449.44,287.51 452.2,287.5 454.95,287.49 457.7,287.48 460.45,287.47 463.21,287.46 465.96,287.45 468.71,287.44 471.46,287.42 474.21,287.41 476.97,287.4 479.72,287.38 482.47,287.37 485.22,287.36 487.98,287.34 490.73,287.33 493.48,287.31 496.23,287.29 498.99,287.28 501.74,287.26 504.49,287.24 507.24,287.22 510,287.2 512.75,287.17 514.7,287.15" fill="none" stroke="#00bfbf" stroke-width="0.8"/>
<g fill="#00bfbf" stroke="#005858" stroke-width="0.6">
<circle cx="50.35" cy="425.59" r="1.9"/><circle cx="53.1" cy="416.31" r="1.9"/><circle cx="55.86" cy="409.88" r="1.9"/><circle cx="58.61" cy="404.98" r="1.9"/><circle cx="61.36" cy="400.56" r="1.9"/><circle cx="64.11" cy="395.6" r="1.9"/><circle cx="66.87" cy="391.09" r="1.9"/><circle cx="69.62" cy="386.87" r="1.9"/><circle cx="72.37" cy="382.82" r="1.9"/><circle cx="75.12" cy="378.91" r="1.9"/><circle cx="77.88" cy="375.15" r="1.9"/><circle cx="80.63" cy="371.52" r="1.9"/><circle cx="83.38" cy="368.02" r="1.9"/><circle cx="86.13" cy="364.65" r="1.9"/><circle cx="88.89" cy="361.39" r="1.9"/><circle cx="91.64" cy="358.24" r="1.9"/><circle cx="94.39" cy="355.21" r="1.9"/><circle cx="97.14" cy="352.29" r="1.9"/><circle cx="99.89" cy="349.48" r="1.9"/><circle cx="102.65" cy="346.78" r="1.9"/><circle cx="105.4" cy="344.19" r="1.9"/><circle cx="108.15" cy="341.71" r="1.9"/><circle cx="110.9" cy="339.35" r="1.9"/><circle cx="113.66" cy="337.13" r="1.9"/><circle cx="116.41" cy="335.07" r="1.9"/><circle cx="119.16" cy="333.13" r="1.9"/><circle cx="121.91" cy="331.31" r="1.9"/><circle cx="124.67" cy="329.57" r="1.9"/><circle cx="127.42" cy="327.9" r="1.9"/><circle cx="130.17" cy="326.28" r="1.9"/><circle cx="132.92" cy="324.68" r="1.9"/><circle cx="135.68" cy="323.1" r="1.9"/><circle cx="138.43" cy="321.56" r="1.9"/><circle cx="141.18" cy="320.08" r="1.9"/><circle cx="143.93" cy="318.66" r="1.9"/><circle cx="146.68" cy="317.28" r="1.9"/><circle cx="149.44" cy="315.95" r="1.9"/><circle cx="152.19" cy="314.67" r="1.9"/><circle cx="154.94" cy="313.43" r="1.9"/><circle cx="157.69" cy="312.23" r="1.9"/><circle cx="160.45" cy="311.08" r="1.9"/><circle cx="163.2" cy="309.95" r="1.9"/><circle cx="165.95" cy="308.84" r="1.9"/><circle cx="168.7" cy="307.77" r="1.9"/><circle cx="171.46" cy="306.73" r="1.9"/><circle cx="174.21" cy="305.73" r="1.9"/><circle cx="176.96" cy="304.77" r="1.9"/><circle cx="179.71" cy="303.87" r="1.9"/><circle cx="182.47" cy="303.02" r="1.9"/><circle cx="185.22" cy="302.23" r="1.9"/><circle cx="187.97" cy="301.5" r="1.9"/><circle cx="190.72" cy="300.84" r="1.9"/><circle cx="193.47" cy="300.22" r="1.9"/><circle cx="196.23" cy="299.65" r="1.9"/><circle cx="198.98" cy="299.11" r="1.9"/><circle cx="201.73" cy="298.6" r="1.9"/><circle cx="204.48" cy="298.12" r="1.9"/><circle cx="207.24" cy="297.64" r="1.9"/><circle cx="209.99" cy="297.18" r="1.9"/><circle cx="212.74" cy="296.72" r="1.9"/><circle cx="215.49" cy="296.29" r="1.9"/><circle cx="218.25" cy="295.87" r="1.9"/><circle cx="221" cy="295.48" r="1.9"/><circle cx="223.75" cy="295.11" r="1.9"/><circle cx="226.5" cy="294.76" r="1.9"/><circle cx="229.26" cy="294.43" r="1.9"/><circle cx="232.01" cy="294.12" r="1.9"/><circle cx="234.76" cy="293.82" r="1.9"/><circle cx="237.51" cy="293.54" r="1.9"/><circle cx="240.26" cy="293.28" r="1.9"/><circle cx="243.02" cy="293.03" r="1.9"/><circle cx="245.77" cy="292.8" r="1.9"/><circle cx="248.52" cy="292.58" r="1.9"/><circle cx="251.27" cy="292.38" r="1.9"/><circle cx="254.03" cy="292.19" r="1.9"/><circle cx="256.78" cy="292.01" r="1.9"/><circle cx="259.53" cy="291.84" r="1.9"/><circle cx="262.28" cy="291.68" r="1.9"/><circle cx="265.04" cy="291.53" r="1.9"/><circle cx="267.79" cy="291.38" r="1.9"/><circle cx="270.54" cy="291.23" r="1.9"/><circle cx="273.29" cy="291.09" r="1.9"/><circle cx="276.05" cy="290.95" r="1.9"/><circle cx="278.8" cy="290.81" r="1.9"/><circle cx="281.55" cy="290.68" r="1.9"/><circle cx="284.3" cy="290.55" r="1.9"/><circle cx="287.05" cy="290.42" r="1.9"/><circle cx="289.81" cy="290.3" r="1.9"/><circle cx="292.56" cy="290.18" r="1.9"/><circle cx="295.31" cy="290.07" r="1.9"/><circle cx="298.06" cy="289.97" r="1.9"/><circle cx="300.82" cy="289.87" r="1.9"/><circle cx="303.57" cy="289.78" r="1.9"/><circle cx="306.32" cy="289.69" r="1.9"/><circle cx="309.07" cy="289.62" r="1.9"/><circle cx="311.83" cy="289.55" r="1.9"/><circle cx="314.58" cy="289.49" r="1.9"/><circle cx="317.33" cy="289.42" r="1.9"/><circle cx="320.08" cy="289.36" r="1.9"/><circle cx="322.84" cy="289.3" r="1.9"/><circle cx="325.59" cy="289.25" r="1.9"/><circle cx="328.34" cy="289.19" r="1.9"/><circle cx="331.09" cy="289.14" r="1.9"/><circle cx="333.84" cy="289.09" r="1.9"/><circle cx="336.6" cy="289.04" r="1.9"/><circle cx="339.35" cy="288.99" r="1.9"/><circle cx="342.1" cy="288.95" r="1.9"/><circle cx="344.85" cy="288.91" r="1.9"/><circle cx="347.61" cy="288.86" r="1.9"/><circle cx="350.36" cy="288.82" r="1.9"/><circle cx="353.11" cy="288.79" r="1.9"/><circle cx="355.86" cy="288.75" r="1.9"/><circle cx="358.62" cy="288.71" r="1.9"/><circle cx="361.37" cy="288.68" r="1.9"/><circle cx="364.12" cy="288.65" r="1.9"/><circle cx="366.87" cy="288.61" r="1.9"/><circle cx="369.63" cy="288.58" r="1.9"/><circle cx="372.38" cy="288.55" r="1.9"/><circle cx="375.13" cy="288.51" r="1.9"/><circle cx="377.88" cy="288.47" r="1.9"/><circle cx="380.63" cy="288.42" r="1.9"/><circle cx="383.39" cy="288.37" r="1.9"/><circle cx="386.14" cy="288.32" r="1.9"/><circle cx="388.89" cy="288.26" r="1.9"/><circle cx="391.64" cy="288.2" r="1.9"/><circle cx="394.4" cy="288.14" r="1.9"/><circle cx="397.15" cy="288.08" r="1.9"/><circle cx="399.9" cy="288.02" r="1.9"/><circle cx="402.65" cy="287.97" r="1.9"/><circle cx="405.41" cy="287.91" r="1.9"/><circle cx="408.16" cy="287.86" r="1.9"/><circle cx="410.91" cy="287.8" r="1.9"/><circle cx="413.66" cy="287.76" r="1.9"/><circle cx="416.42" cy="287.72" r="1.9"/><circle cx="419.17" cy="287.68" r="1.9"/><circle cx="421.92" cy="287.65" r="1.9"/><circle cx="424.67" cy="287.62" r="1.9"/><circle cx="427.42" cy="287.6" r="1.9"/><circle cx="430.18" cy="287.59" r="1.9"/><circle cx="432.93" cy="287.57" r="1.9"/><circle cx="435.68" cy="287.56" r="1.9"/><circle cx="438.43" cy="287.55" r="1.9"/><circle cx="441.19" cy="287.53" r="1.9"/><circle cx="443.94" cy="287.52" r="1.9"/><circle cx="446.69" cy="287.52" r="1.9"/><circle cx="449.44" cy="287.51" r="1.9"/><circle cx="452.2" cy="287.5" r="1.9"/><circle cx="454.95" cy="287.49" r="1.9"/><circle cx="457.7" cy="287.48" r="1.9"/><circle cx="460.45" cy="287.47" r="1.9"/><circle cx="463.21" cy="287.46" r="1.9"/><circle cx="465.96" cy="287.45" r="1.9"/><circle cx="468.71" cy="287.44" r="1.9"/><circle cx="471.46" cy="287.42" r="1.9"/><circle cx="474.21" cy="287.41" r="1.9"/><circle cx="476.97" cy="287.4" r="1.9"/><circle cx="479.72" cy="287.38" r="1.9"/><circle cx="482.47" cy="287.37" r="1.9"/><circle cx="485.22" cy="287.36" r="1.9"/><circle cx="487.98" cy="287.34" r="1.9"/><circle cx="490.73" cy="287.33" r="1.9"/><circle cx="493.48" cy="287.31" r="1.9"/><circle cx="496.23" cy="287.29" r="1.9"/><circle cx="498.99" cy="287.28" r="1.9"/><circle cx="501.74" cy="287.26" r="1.9"/><circle cx="504.49" cy="287.24" r="1.9"/><circle cx="507.24" cy="287.22" r="1.9"/><circle cx="510" cy="287.2" r="1.9"/><circle cx="512.75" cy="287.17" r="1.9"/><circle cx="514.7" cy="287.15" r="1.9"/>
</g>
</g>
<rect x="345.2" y="392.7" width="164.4" height="67.5" fill="#fff" stroke="#4c4c4c" stroke-width="0.9"/>
<line x1="353.3" y1="401.45" x2="368.65" y2="401.45" stroke="#0000ff" stroke-width="0.8"/>
<g fill="#0000ff" stroke="#000070" stroke-width="0.6"><circle cx="353.3" cy="401.45" r="2.0"/><circle cx="368.65" cy="401.45" r="2.0"/></g>
<text x="380.9" y="405.35" font-size="11.1" fill="#222">20-30% brightness pixels</text>
<line x1="353.3" y1="417.55" x2="368.65" y2="417.55" stroke="#008000" stroke-width="0.8"/>
<g fill="#008000" stroke="#003800" stroke-width="0.6"><circle cx="353.3" cy="417.55" r="2.0"/><circle cx="368.65" cy="417.55" r="2.0"/></g>
<text x="380.9" y="421.45" font-size="11.1" fill="#222">40-50% brightness pixels</text>
<line x1="353.3" y1="433.65" x2="368.65" y2="433.65" stroke="#ff0000" stroke-width="0.8"/>
<g fill="#ff0000" stroke="#700000" stroke-width="0.6"><circle cx="353.3" cy="433.65" r="2.0"/><circle cx="368.65" cy="433.65" r="2.0"/></g>
<text x="380.9" y="437.55" font-size="11.1" fill="#222">60-70% brightness pixels</text>
<line x1="353.3" y1="449.75" x2="368.65" y2="449.75" stroke="#00bfbf" stroke-width="0.8"/>
<g fill="#00bfbf" stroke="#005858" stroke-width="0.6"><circle cx="353.3" cy="449.75" r="2.0"/><circle cx="368.65" cy="449.75" r="2.0"/></g>
<text x="380.9" y="453.65" font-size="11.1" fill="#222">80-90% brightness pixels</text>
<path d="M47.6 465.8v-3.2M47.6 264.5v3.2M141.18 465.8v-3.2M141.18 264.5v3.2M234.76 465.8v-3.2M234.76 264.5v3.2M328.34 465.8v-3.2M328.34 264.5v3.2M421.92 465.8v-3.2M421.92 264.5v3.2M515.5 465.8v-3.2M515.5 264.5v3.2M47.6 465.8h3.2M515.5 465.8h-3.2M47.6 437.04h3.2M515.5 437.04h-3.2M47.6 408.29h3.2M515.5 408.29h-3.2M47.6 379.53h3.2M515.5 379.53h-3.2M47.6 350.77h3.2M515.5 350.77h-3.2M47.6 322.01h3.2M515.5 322.01h-3.2M47.6 293.26h3.2M515.5 293.26h-3.2M47.6 264.5h3.2M515.5 264.5h-3.2" stroke="#000" stroke-width="0.55" fill="none" opacity="0.85"/>
<rect x="47.6" y="264.5" width="467.9" height="201.3" fill="none" stroke="#4c4c4c" stroke-width="1.15"/>
<text transform="translate(44.9 469.1) scale(0.905 1)" font-size="10.5" text-anchor="end" fill="#222">0.0000</text>
<text transform="translate(44.9 440.34) scale(0.905 1)" font-size="10.5" text-anchor="end" fill="#222">0.0005</text>
<text transform="translate(44.9 411.59) scale(0.905 1)" font-size="10.5" text-anchor="end" fill="#222">0.0010</text>
<text transform="translate(44.9 382.83) scale(0.905 1)" font-size="10.5" text-anchor="end" fill="#222">0.0015</text>
<text transform="translate(44.9 354.07) scale(0.905 1)" font-size="10.5" text-anchor="end" fill="#222">0.0020</text>
<text transform="translate(44.9 325.31) scale(0.905 1)" font-size="10.5" text-anchor="end" fill="#222">0.0025</text>
<text transform="translate(44.9 296.56) scale(0.905 1)" font-size="10.5" text-anchor="end" fill="#222">0.0030</text>
<text transform="translate(44.9 267.8) scale(0.905 1)" font-size="10.5" text-anchor="end" fill="#222">0.0035</text>
<text transform="translate(47.4 477) scale(0.905 1)" font-size="10.5" text-anchor="middle" fill="#222">0.00</text>
<text transform="translate(140.98 477) scale(0.905 1)" font-size="10.5" text-anchor="middle" fill="#222">0.02</text>
<text transform="translate(234.56 477) scale(0.905 1)" font-size="10.5" text-anchor="middle" fill="#222">0.04</text>
<text transform="translate(328.14 477) scale(0.905 1)" font-size="10.5" text-anchor="middle" fill="#222">0.06</text>
<text transform="translate(421.72 477) scale(0.905 1)" font-size="10.5" text-anchor="middle" fill="#222">0.08</text>
<text transform="translate(515.3 477) scale(0.905 1)" font-size="10.5" text-anchor="middle" fill="#222">0.10</text>
<text x="281.25" y="489.3" font-size="11.15" text-anchor="middle" fill="#222">Seconds</text>
<text x="282.05" y="261.3" font-size="12.55" text-anchor="middle" fill="#222">AO188 Only, 20170531</text>
<text transform="translate(10.1 365.15) rotate(-90)" font-size="11.25" text-anchor="middle" fill="#222">(Standard deviation) / (PSF core intensity)</text>
</g>
<g>
<clipPath id="cp2"><rect x="47.6" y="516" width="468.2" height="201.6"/></clipPath>
<g clip-path="url(#cp2)">
<polyline points="50.35,708.69 53.1,704.54 55.86,701.48 58.61,699.2 61.36,697.68 64.11,696.9 66.87,696.58 69.62,696.44 72.37,696.3 75.12,696.13 77.88,695.81 80.63,695.43 83.38,695.07 86.13,694.7 88.89,694.41 91.64,694.18 94.39,693.87 97.14,693.43 99.89,692.96 102.65,692.5 105.4,692.05 108.15,691.59 110.9,691.15 113.66,690.71 116.41,690.27 119.16,689.83 121.91,689.4 124.67,688.97 127.42,688.54 130.17,688.12 132.92,687.69 135.68,687.27 138.43,686.83 141.18,686.39 143.93,685.94 146.68,685.49 149.44,685.03 152.19,684.58 154.94,684.14 157.69,683.71 160.45,683.3 163.2,682.89 165.95,682.48 168.7,682.08 171.46,681.68 174.21,681.3 176.96,680.92 179.71,680.56 182.47,680.21 185.22,679.88 187.97,679.57 190.72,679.3 193.47,679.06 196.23,678.83 198.98,678.61 201.73,678.39 204.48,678.16 207.24,677.92 209.99,677.66 212.74,677.38 215.49,677.1 218.25,676.82 221,676.55 223.75,676.28 226.5,676.02 229.26,675.75 232.01,675.49 234.76,675.23 237.51,674.98 240.26,674.73 243.02,674.48 245.77,674.24 248.52,674 251.27,673.76 254.03,673.53 256.78,673.3 259.53,673.08 262.28,672.86 265.04,672.65 267.79,672.44 270.54,672.24 273.29,672.04 276.05,671.85 278.8,671.66 281.55,671.47 284.3,671.29 287.05,671.11 289.81,670.93 292.56,670.76 295.31,670.59 298.06,670.42 300.82,670.26 303.57,670.1 306.32,669.95 309.07,669.8 311.83,669.65 314.58,669.51 317.33,669.37 320.08,669.23 322.84,669.1 325.59,668.97 328.34,668.84 331.09,668.72 333.84,668.6 336.6,668.49 339.35,668.37 342.1,668.26 344.85,668.15 347.61,668.05 350.36,667.95 353.11,667.85 355.86,667.75 358.62,667.66 361.37,667.57 364.12,667.48 366.87,667.39 369.63,667.31 372.38,667.23 375.13,667.15 377.88,667.07 380.63,666.99 383.39,666.92 386.14,666.85 388.89,666.78 391.64,666.71 394.4,666.64 397.15,666.58 399.9,666.51 402.65,666.45 405.41,666.39 408.16,666.33 410.91,666.27 413.66,666.22 416.42,666.16 419.17,666.11 421.92,666.05 424.67,665.99 427.42,665.93 430.18,665.87 432.93,665.81 435.68,665.74 438.43,665.68 441.19,665.61 443.94,665.55 446.69,665.48 449.44,665.42 452.2,665.37 454.95,665.31 457.7,665.26 460.45,665.21 463.21,665.17 465.96,665.13 468.71,665.1 471.46,665.08 474.21,665.07 476.97,665.06 479.72,665.07 482.47,665.08 485.22,665.1 487.98,665.12 490.73,665.15 493.48,665.18 496.23,665.22 498.99,665.26 501.74,665.3 504.49,665.36 507.24,665.45 510,665.54 512.75,665.64 514.7,665.68" fill="none" stroke="#0000ff" stroke-width="0.8"/>
<g fill="#0000ff" stroke="#000070" stroke-width="0.6">
<circle cx="50.35" cy="708.69" r="1.9"/><circle cx="53.1" cy="704.54" r="1.9"/><circle cx="55.86" cy="701.48" r="1.9"/><circle cx="58.61" cy="699.2" r="1.9"/><circle cx="61.36" cy="697.68" r="1.9"/><circle cx="64.11" cy="696.9" r="1.9"/><circle cx="66.87" cy="696.58" r="1.9"/><circle cx="69.62" cy="696.44" r="1.9"/><circle cx="72.37" cy="696.3" r="1.9"/><circle cx="75.12" cy="696.13" r="1.9"/><circle cx="77.88" cy="695.81" r="1.9"/><circle cx="80.63" cy="695.43" r="1.9"/><circle cx="83.38" cy="695.07" r="1.9"/><circle cx="86.13" cy="694.7" r="1.9"/><circle cx="88.89" cy="694.41" r="1.9"/><circle cx="91.64" cy="694.18" r="1.9"/><circle cx="94.39" cy="693.87" r="1.9"/><circle cx="97.14" cy="693.43" r="1.9"/><circle cx="99.89" cy="692.96" r="1.9"/><circle cx="102.65" cy="692.5" r="1.9"/><circle cx="105.4" cy="692.05" r="1.9"/><circle cx="108.15" cy="691.59" r="1.9"/><circle cx="110.9" cy="691.15" r="1.9"/><circle cx="113.66" cy="690.71" r="1.9"/><circle cx="116.41" cy="690.27" r="1.9"/><circle cx="119.16" cy="689.83" r="1.9"/><circle cx="121.91" cy="689.4" r="1.9"/><circle cx="124.67" cy="688.97" r="1.9"/><circle cx="127.42" cy="688.54" r="1.9"/><circle cx="130.17" cy="688.12" r="1.9"/><circle cx="132.92" cy="687.69" r="1.9"/><circle cx="135.68" cy="687.27" r="1.9"/><circle cx="138.43" cy="686.83" r="1.9"/><circle cx="141.18" cy="686.39" r="1.9"/><circle cx="143.93" cy="685.94" r="1.9"/><circle cx="146.68" cy="685.49" r="1.9"/><circle cx="149.44" cy="685.03" r="1.9"/><circle cx="152.19" cy="684.58" r="1.9"/><circle cx="154.94" cy="684.14" r="1.9"/><circle cx="157.69" cy="683.71" r="1.9"/><circle cx="160.45" cy="683.3" r="1.9"/><circle cx="163.2" cy="682.89" r="1.9"/><circle cx="165.95" cy="682.48" r="1.9"/><circle cx="168.7" cy="682.08" r="1.9"/><circle cx="171.46" cy="681.68" r="1.9"/><circle cx="174.21" cy="681.3" r="1.9"/><circle cx="176.96" cy="680.92" r="1.9"/><circle cx="179.71" cy="680.56" r="1.9"/><circle cx="182.47" cy="680.21" r="1.9"/><circle cx="185.22" cy="679.88" r="1.9"/><circle cx="187.97" cy="679.57" r="1.9"/><circle cx="190.72" cy="679.3" r="1.9"/><circle cx="193.47" cy="679.06" r="1.9"/><circle cx="196.23" cy="678.83" r="1.9"/><circle cx="198.98" cy="678.61" r="1.9"/><circle cx="201.73" cy="678.39" r="1.9"/><circle cx="204.48" cy="678.16" r="1.9"/><circle cx="207.24" cy="677.92" r="1.9"/><circle cx="209.99" cy="677.66" r="1.9"/><circle cx="212.74" cy="677.38" r="1.9"/><circle cx="215.49" cy="677.1" r="1.9"/><circle cx="218.25" cy="676.82" r="1.9"/><circle cx="221" cy="676.55" r="1.9"/><circle cx="223.75" cy="676.28" r="1.9"/><circle cx="226.5" cy="676.02" r="1.9"/><circle cx="229.26" cy="675.75" r="1.9"/><circle cx="232.01" cy="675.49" r="1.9"/><circle cx="234.76" cy="675.23" r="1.9"/><circle cx="237.51" cy="674.98" r="1.9"/><circle cx="240.26" cy="674.73" r="1.9"/><circle cx="243.02" cy="674.48" r="1.9"/><circle cx="245.77" cy="674.24" r="1.9"/><circle cx="248.52" cy="674" r="1.9"/><circle cx="251.27" cy="673.76" r="1.9"/><circle cx="254.03" cy="673.53" r="1.9"/><circle cx="256.78" cy="673.3" r="1.9"/><circle cx="259.53" cy="673.08" r="1.9"/><circle cx="262.28" cy="672.86" r="1.9"/><circle cx="265.04" cy="672.65" r="1.9"/><circle cx="267.79" cy="672.44" r="1.9"/><circle cx="270.54" cy="672.24" r="1.9"/><circle cx="273.29" cy="672.04" r="1.9"/><circle cx="276.05" cy="671.85" r="1.9"/><circle cx="278.8" cy="671.66" r="1.9"/><circle cx="281.55" cy="671.47" r="1.9"/><circle cx="284.3" cy="671.29" r="1.9"/><circle cx="287.05" cy="671.11" r="1.9"/><circle cx="289.81" cy="670.93" r="1.9"/><circle cx="292.56" cy="670.76" r="1.9"/><circle cx="295.31" cy="670.59" r="1.9"/><circle cx="298.06" cy="670.42" r="1.9"/><circle cx="300.82" cy="670.26" r="1.9"/><circle cx="303.57" cy="670.1" r="1.9"/><circle cx="306.32" cy="669.95" r="1.9"/><circle cx="309.07" cy="669.8" r="1.9"/><circle cx="311.83" cy="669.65" r="1.9"/><circle cx="314.58" cy="669.51" r="1.9"/><circle cx="317.33" cy="669.37" r="1.9"/><circle cx="320.08" cy="669.23" r="1.9"/><circle cx="322.84" cy="669.1" r="1.9"/><circle cx="325.59" cy="668.97" r="1.9"/><circle cx="328.34" cy="668.84" r="1.9"/><circle cx="331.09" cy="668.72" r="1.9"/><circle cx="333.84" cy="668.6" r="1.9"/><circle cx="336.6" cy="668.49" r="1.9"/><circle cx="339.35" cy="668.37" r="1.9"/><circle cx="342.1" cy="668.26" r="1.9"/><circle cx="344.85" cy="668.15" r="1.9"/><circle cx="347.61" cy="668.05" r="1.9"/><circle cx="350.36" cy="667.95" r="1.9"/><circle cx="353.11" cy="667.85" r="1.9"/><circle cx="355.86" cy="667.75" r="1.9"/><circle cx="358.62" cy="667.66" r="1.9"/><circle cx="361.37" cy="667.57" r="1.9"/><circle cx="364.12" cy="667.48" r="1.9"/><circle cx="366.87" cy="667.39" r="1.9"/><circle cx="369.63" cy="667.31" r="1.9"/><circle cx="372.38" cy="667.23" r="1.9"/><circle cx="375.13" cy="667.15" r="1.9"/><circle cx="377.88" cy="667.07" r="1.9"/><circle cx="380.63" cy="666.99" r="1.9"/><circle cx="383.39" cy="666.92" r="1.9"/><circle cx="386.14" cy="666.85" r="1.9"/><circle cx="388.89" cy="666.78" r="1.9"/><circle cx="391.64" cy="666.71" r="1.9"/><circle cx="394.4" cy="666.64" r="1.9"/><circle cx="397.15" cy="666.58" r="1.9"/><circle cx="399.9" cy="666.51" r="1.9"/><circle cx="402.65" cy="666.45" r="1.9"/><circle cx="405.41" cy="666.39" r="1.9"/><circle cx="408.16" cy="666.33" r="1.9"/><circle cx="410.91" cy="666.27" r="1.9"/><circle cx="413.66" cy="666.22" r="1.9"/><circle cx="416.42" cy="666.16" r="1.9"/><circle cx="419.17" cy="666.11" r="1.9"/><circle cx="421.92" cy="666.05" r="1.9"/><circle cx="424.67" cy="665.99" r="1.9"/><circle cx="427.42" cy="665.93" r="1.9"/><circle cx="430.18" cy="665.87" r="1.9"/><circle cx="432.93" cy="665.81" r="1.9"/><circle cx="435.68" cy="665.74" r="1.9"/><circle cx="438.43" cy="665.68" r="1.9"/><circle cx="441.19" cy="665.61" r="1.9"/><circle cx="443.94" cy="665.55" r="1.9"/><circle cx="446.69" cy="665.48" r="1.9"/><circle cx="449.44" cy="665.42" r="1.9"/><circle cx="452.2" cy="665.37" r="1.9"/><circle cx="454.95" cy="665.31" r="1.9"/><circle cx="457.7" cy="665.26" r="1.9"/><circle cx="460.45" cy="665.21" r="1.9"/><circle cx="463.21" cy="665.17" r="1.9"/><circle cx="465.96" cy="665.13" r="1.9"/><circle cx="468.71" cy="665.1" r="1.9"/><circle cx="471.46" cy="665.08" r="1.9"/><circle cx="474.21" cy="665.07" r="1.9"/><circle cx="476.97" cy="665.06" r="1.9"/><circle cx="479.72" cy="665.07" r="1.9"/><circle cx="482.47" cy="665.08" r="1.9"/><circle cx="485.22" cy="665.1" r="1.9"/><circle cx="487.98" cy="665.12" r="1.9"/><circle cx="490.73" cy="665.15" r="1.9"/><circle cx="493.48" cy="665.18" r="1.9"/><circle cx="496.23" cy="665.22" r="1.9"/><circle cx="498.99" cy="665.26" r="1.9"/><circle cx="501.74" cy="665.3" r="1.9"/><circle cx="504.49" cy="665.36" r="1.9"/><circle cx="507.24" cy="665.45" r="1.9"/><circle cx="510" cy="665.54" r="1.9"/><circle cx="512.75" cy="665.64" r="1.9"/><circle cx="514.7" cy="665.68" r="1.9"/>
</g>
<polyline points="50.35,702.1 53.1,697.49 55.86,694.01 58.61,690.71 61.36,688.58 64.11,687.57 66.87,687.04 69.62,686.88 72.37,686.74 75.12,686.55 77.88,686.07 80.63,685.43 83.38,684.76 86.13,684.08 88.89,683.56 91.64,683.14 94.39,682.7 97.14,682.16 99.89,681.6 102.65,681.04 105.4,680.5 108.15,679.96 110.9,679.43 113.66,678.91 116.41,678.39 119.16,677.87 121.91,677.36 124.67,676.85 127.42,676.34 130.17,675.84 132.92,675.33 135.68,674.82 138.43,674.29 141.18,673.75 143.93,673.19 146.68,672.63 149.44,672.08 152.19,671.53 154.94,671.01 157.69,670.52 160.45,670.06 163.2,669.63 165.95,669.2 168.7,668.78 171.46,668.38 174.21,667.98 176.96,667.59 179.71,667.2 182.47,666.83 185.22,666.46 187.97,666.1 190.72,665.77 193.47,665.44 196.23,665.13 198.98,664.82 201.73,664.51 204.48,664.2 207.24,663.89 209.99,663.57 212.74,663.24 215.49,662.91 218.25,662.59 221,662.27 223.75,661.95 226.5,661.63 229.26,661.32 232.01,661.01 234.76,660.7 237.51,660.4 240.26,660.1 243.02,659.81 245.77,659.52 248.52,659.24 251.27,658.97 254.03,658.7 256.78,658.44 259.53,658.19 262.28,657.94 265.04,657.71 267.79,657.48 270.54,657.26 273.29,657.05 276.05,656.85 278.8,656.64 281.55,656.45 284.3,656.25 287.05,656.06 289.81,655.88 292.56,655.7 295.31,655.52 298.06,655.35 300.82,655.18 303.57,655.01 306.32,654.85 309.07,654.69 311.83,654.54 314.58,654.39 317.33,654.24 320.08,654.1 322.84,653.96 325.59,653.82 328.34,653.68 331.09,653.54 333.84,653.4 336.6,653.27 339.35,653.14 342.1,653 344.85,652.87 347.61,652.74 350.36,652.62 353.11,652.49 355.86,652.37 358.62,652.25 361.37,652.12 364.12,652.01 366.87,651.89 369.63,651.78 372.38,651.66 375.13,651.55 377.88,651.44 380.63,651.34 383.39,651.23 386.14,651.13 388.89,651.03 391.64,650.94 394.4,650.84 397.15,650.75 399.9,650.66 402.65,650.58 405.41,650.49 408.16,650.41 410.91,650.34 413.66,650.26 416.42,650.19 419.17,650.12 421.92,650.05 424.67,649.99 427.42,649.92 430.18,649.86 432.93,649.8 435.68,649.73 438.43,649.67 441.19,649.62 443.94,649.56 446.69,649.5 449.44,649.45 452.2,649.4 454.95,649.35 457.7,649.3 460.45,649.25 463.21,649.21 465.96,649.16 468.71,649.12 471.46,649.09 474.21,649.07 476.97,649.06 479.72,649.06 482.47,649.08 485.22,649.1 487.98,649.13 490.73,649.17 493.48,649.21 496.23,649.25 498.99,649.29 501.74,649.33 504.49,649.4 507.24,649.48 510,649.57 512.75,649.66 514.7,649.7" fill="none" stroke="#008000" stroke-width="0.8"/>
<g fill="#008000" stroke="#003800" stroke-width="0.6">
<circle cx="50.35" cy="702.1" r="1.9"/><circle cx="53.1" cy="697.49" r="1.9"/><circle cx="55.86" cy="694.01" r="1.9"/><circle cx="58.61" cy="690.71" r="1.9"/><circle cx="61.36" cy="688.58" r="1.9"/><circle cx="64.11" cy="687.57" r="1.9"/><circle cx="66.87" cy="687.04" r="1.9"/><circle cx="69.62" cy="686.88" r="1.9"/><circle cx="72.37" cy="686.74" r="1.9"/><circle cx="75.12" cy="686.55" r="1.9"/><circle cx="77.88" cy="686.07" r="1.9"/><circle cx="80.63" cy="685.43" r="1.9"/><circle cx="83.38" cy="684.76" r="1.9"/><circle cx="86.13" cy="684.08" r="1.9"/><circle cx="88.89" cy="683.56" r="1.9"/><circle cx="91.64" cy="683.14" r="1.9"/><circle cx="94.39" cy="682.7" r="1.9"/><circle cx="97.14" cy="682.16" r="1.9"/><circle cx="99.89" cy="681.6" r="1.9"/><circle cx="102.65" cy="681.04" r="1.9"/><circle cx="105.4" cy="680.5" r="1.9"/><circle cx="108.15" cy="679.96" r="1.9"/><circle cx="110.9" cy="679.43" r="1.9"/><circle cx="113.66" cy="678.91" r="1.9"/><circle cx="116.41" cy="678.39" r="1.9"/><circle cx="119.16" cy="677.87" r="1.9"/><circle cx="121.91" cy="677.36" r="1.9"/><circle cx="124.67" cy="676.85" r="1.9"/><circle cx="127.42" cy="676.34" r="1.9"/><circle cx="130.17" cy="675.84" r="1.9"/><circle cx="132.92" cy="675.33" r="1.9"/><circle cx="135.68" cy="674.82" r="1.9"/><circle cx="138.43" cy="674.29" r="1.9"/><circle cx="141.18" cy="673.75" r="1.9"/><circle cx="143.93" cy="673.19" r="1.9"/><circle cx="146.68" cy="672.63" r="1.9"/><circle cx="149.44" cy="672.08" r="1.9"/><circle cx="152.19" cy="671.53" r="1.9"/><circle cx="154.94" cy="671.01" r="1.9"/><circle cx="157.69" cy="670.52" r="1.9"/><circle cx="160.45" cy="670.06" r="1.9"/><circle cx="163.2" cy="669.63" r="1.9"/><circle cx="165.95" cy="669.2" r="1.9"/><circle cx="168.7" cy="668.78" r="1.9"/><circle cx="171.46" cy="668.38" r="1.9"/><circle cx="174.21" cy="667.98" r="1.9"/><circle cx="176.96" cy="667.59" r="1.9"/><circle cx="179.71" cy="667.2" r="1.9"/><circle cx="182.47" cy="666.83" r="1.9"/><circle cx="185.22" cy="666.46" r="1.9"/><circle cx="187.97" cy="666.1" r="1.9"/><circle cx="190.72" cy="665.77" r="1.9"/><circle cx="193.47" cy="665.44" r="1.9"/><circle cx="196.23" cy="665.13" r="1.9"/><circle cx="198.98" cy="664.82" r="1.9"/><circle cx="201.73" cy="664.51" r="1.9"/><circle cx="204.48" cy="664.2" r="1.9"/><circle cx="207.24" cy="663.89" r="1.9"/><circle cx="209.99" cy="663.57" r="1.9"/><circle cx="212.74" cy="663.24" r="1.9"/><circle cx="215.49" cy="662.91" r="1.9"/><circle cx="218.25" cy="662.59" r="1.9"/><circle cx="221" cy="662.27" r="1.9"/><circle cx="223.75" cy="661.95" r="1.9"/><circle cx="226.5" cy="661.63" r="1.9"/><circle cx="229.26" cy="661.32" r="1.9"/><circle cx="232.01" cy="661.01" r="1.9"/><circle cx="234.76" cy="660.7" r="1.9"/><circle cx="237.51" cy="660.4" r="1.9"/><circle cx="240.26" cy="660.1" r="1.9"/><circle cx="243.02" cy="659.81" r="1.9"/><circle cx="245.77" cy="659.52" r="1.9"/><circle cx="248.52" cy="659.24" r="1.9"/><circle cx="251.27" cy="658.97" r="1.9"/><circle cx="254.03" cy="658.7" r="1.9"/><circle cx="256.78" cy="658.44" r="1.9"/><circle cx="259.53" cy="658.19" r="1.9"/><circle cx="262.28" cy="657.94" r="1.9"/><circle cx="265.04" cy="657.71" r="1.9"/><circle cx="267.79" cy="657.48" r="1.9"/><circle cx="270.54" cy="657.26" r="1.9"/><circle cx="273.29" cy="657.05" r="1.9"/><circle cx="276.05" cy="656.85" r="1.9"/><circle cx="278.8" cy="656.64" r="1.9"/><circle cx="281.55" cy="656.45" r="1.9"/><circle cx="284.3" cy="656.25" r="1.9"/><circle cx="287.05" cy="656.06" r="1.9"/><circle cx="289.81" cy="655.88" r="1.9"/><circle cx="292.56" cy="655.7" r="1.9"/><circle cx="295.31" cy="655.52" r="1.9"/><circle cx="298.06" cy="655.35" r="1.9"/><circle cx="300.82" cy="655.18" r="1.9"/><circle cx="303.57" cy="655.01" r="1.9"/><circle cx="306.32" cy="654.85" r="1.9"/><circle cx="309.07" cy="654.69" r="1.9"/><circle cx="311.83" cy="654.54" r="1.9"/><circle cx="314.58" cy="654.39" r="1.9"/><circle cx="317.33" cy="654.24" r="1.9"/><circle cx="320.08" cy="654.1" r="1.9"/><circle cx="322.84" cy="653.96" r="1.9"/><circle cx="325.59" cy="653.82" r="1.9"/><circle cx="328.34" cy="653.68" r="1.9"/><circle cx="331.09" cy="653.54" r="1.9"/><circle cx="333.84" cy="653.4" r="1.9"/><circle cx="336.6" cy="653.27" r="1.9"/><circle cx="339.35" cy="653.14" r="1.9"/><circle cx="342.1" cy="653" r="1.9"/><circle cx="344.85" cy="652.87" r="1.9"/><circle cx="347.61" cy="652.74" r="1.9"/><circle cx="350.36" cy="652.62" r="1.9"/><circle cx="353.11" cy="652.49" r="1.9"/><circle cx="355.86" cy="652.37" r="1.9"/><circle cx="358.62" cy="652.25" r="1.9"/><circle cx="361.37" cy="652.12" r="1.9"/><circle cx="364.12" cy="652.01" r="1.9"/><circle cx="366.87" cy="651.89" r="1.9"/><circle cx="369.63" cy="651.78" r="1.9"/><circle cx="372.38" cy="651.66" r="1.9"/><circle cx="375.13" cy="651.55" r="1.9"/><circle cx="377.88" cy="651.44" r="1.9"/><circle cx="380.63" cy="651.34" r="1.9"/><circle cx="383.39" cy="651.23" r="1.9"/><circle cx="386.14" cy="651.13" r="1.9"/><circle cx="388.89" cy="651.03" r="1.9"/><circle cx="391.64" cy="650.94" r="1.9"/><circle cx="394.4" cy="650.84" r="1.9"/><circle cx="397.15" cy="650.75" r="1.9"/><circle cx="399.9" cy="650.66" r="1.9"/><circle cx="402.65" cy="650.58" r="1.9"/><circle cx="405.41" cy="650.49" r="1.9"/><circle cx="408.16" cy="650.41" r="1.9"/><circle cx="410.91" cy="650.34" r="1.9"/><circle cx="413.66" cy="650.26" r="1.9"/><circle cx="416.42" cy="650.19" r="1.9"/><circle cx="419.17" cy="650.12" r="1.9"/><circle cx="421.92" cy="650.05" r="1.9"/><circle cx="424.67" cy="649.99" r="1.9"/><circle cx="427.42" cy="649.92" r="1.9"/><circle cx="430.18" cy="649.86" r="1.9"/><circle cx="432.93" cy="649.8" r="1.9"/><circle cx="435.68" cy="649.73" r="1.9"/><circle cx="438.43" cy="649.67" r="1.9"/><circle cx="441.19" cy="649.62" r="1.9"/><circle cx="443.94" cy="649.56" r="1.9"/><circle cx="446.69" cy="649.5" r="1.9"/><circle cx="449.44" cy="649.45" r="1.9"/><circle cx="452.2" cy="649.4" r="1.9"/><circle cx="454.95" cy="649.35" r="1.9"/><circle cx="457.7" cy="649.3" r="1.9"/><circle cx="460.45" cy="649.25" r="1.9"/><circle cx="463.21" cy="649.21" r="1.9"/><circle cx="465.96" cy="649.16" r="1.9"/><circle cx="468.71" cy="649.12" r="1.9"/><circle cx="471.46" cy="649.09" r="1.9"/><circle cx="474.21" cy="649.07" r="1.9"/><circle cx="476.97" cy="649.06" r="1.9"/><circle cx="479.72" cy="649.06" r="1.9"/><circle cx="482.47" cy="649.08" r="1.9"/><circle cx="485.22" cy="649.1" r="1.9"/><circle cx="487.98" cy="649.13" r="1.9"/><circle cx="490.73" cy="649.17" r="1.9"/><circle cx="493.48" cy="649.21" r="1.9"/><circle cx="496.23" cy="649.25" r="1.9"/><circle cx="498.99" cy="649.29" r="1.9"/><circle cx="501.74" cy="649.33" r="1.9"/><circle cx="504.49" cy="649.4" r="1.9"/><circle cx="507.24" cy="649.48" r="1.9"/><circle cx="510" cy="649.57" r="1.9"/><circle cx="512.75" cy="649.66" r="1.9"/><circle cx="514.7" cy="649.7" r="1.9"/>
</g>
<polyline points="50.35,693.14 53.1,686.24 55.86,680.63 58.61,676.19 61.36,672.9 64.11,670.86 66.87,669.76 69.62,669.24 72.37,669.09 75.12,668.93 77.88,668.16 80.63,667.02 83.38,666.02 86.13,665.07 88.89,664.23 91.64,663.5 94.39,662.75 97.14,661.91 99.89,661.05 102.65,660.2 105.4,659.36 108.15,658.53 110.9,657.71 113.66,656.9 116.41,656.09 119.16,655.3 121.91,654.51 124.67,653.74 127.42,652.97 130.17,652.21 132.92,651.45 135.68,650.7 138.43,649.94 141.18,649.16 143.93,648.38 146.68,647.6 149.44,646.82 152.19,646.07 154.94,645.33 157.69,644.64 160.45,643.98 163.2,643.34 165.95,642.72 168.7,642.11 171.46,641.5 174.21,640.91 176.96,640.33 179.71,639.76 182.47,639.21 185.22,638.66 187.97,638.14 190.72,637.65 193.47,637.18 196.23,636.74 198.98,636.31 201.73,635.88 204.48,635.46 207.24,635.03 209.99,634.59 212.74,634.14 215.49,633.7 218.25,633.27 221,632.85 223.75,632.44 226.5,632.04 229.26,631.65 232.01,631.26 234.76,630.89 237.51,630.52 240.26,630.16 243.02,629.82 245.77,629.47 248.52,629.14 251.27,628.82 254.03,628.5 256.78,628.2 259.53,627.9 262.28,627.61 265.04,627.32 267.79,627.05 270.54,626.78 273.29,626.52 276.05,626.26 278.8,626.01 281.55,625.76 284.3,625.52 287.05,625.28 289.81,625.05 292.56,624.83 295.31,624.6 298.06,624.39 300.82,624.18 303.57,623.98 306.32,623.78 309.07,623.58 311.83,623.4 314.58,623.21 317.33,623.04 320.08,622.87 322.84,622.7 325.59,622.54 328.34,622.38 331.09,622.22 333.84,622.07 336.6,621.93 339.35,621.78 342.1,621.64 344.85,621.5 347.61,621.37 350.36,621.24 353.11,621.11 355.86,620.98 358.62,620.85 361.37,620.73 364.12,620.6 366.87,620.48 369.63,620.36 372.38,620.25 375.13,620.13 377.88,620.02 380.63,619.9 383.39,619.79 386.14,619.68 388.89,619.57 391.64,619.47 394.4,619.36 397.15,619.26 399.9,619.16 402.65,619.06 405.41,618.96 408.16,618.86 410.91,618.77 413.66,618.68 416.42,618.59 419.17,618.5 421.92,618.41 424.67,618.32 427.42,618.23 430.18,618.14 432.93,618.05 435.68,617.96 438.43,617.88 441.19,617.79 443.94,617.71 446.69,617.64 449.44,617.56 452.2,617.49 454.95,617.43 457.7,617.37 460.45,617.31 463.21,617.27 465.96,617.23 468.71,617.19 471.46,617.17 474.21,617.16 476.97,617.16 479.72,617.18 482.47,617.21 485.22,617.24 487.98,617.29 490.73,617.35 493.48,617.41 496.23,617.47 498.99,617.54 501.74,617.62 504.49,617.71 507.24,617.82 510,617.94 512.75,618.07 514.7,618.14" fill="none" stroke="#ff0000" stroke-width="0.8"/>
<g fill="#ff0000" stroke="#700000" stroke-width="0.6">
<circle cx="50.35" cy="693.14" r="1.9"/><circle cx="53.1" cy="686.24" r="1.9"/><circle cx="55.86" cy="680.63" r="1.9"/><circle cx="58.61" cy="676.19" r="1.9"/><circle cx="61.36" cy="672.9" r="1.9"/><circle cx="64.11" cy="670.86" r="1.9"/><circle cx="66.87" cy="669.76" r="1.9"/><circle cx="69.62" cy="669.24" r="1.9"/><circle cx="72.37" cy="669.09" r="1.9"/><circle cx="75.12" cy="668.93" r="1.9"/><circle cx="77.88" cy="668.16" r="1.9"/><circle cx="80.63" cy="667.02" r="1.9"/><circle cx="83.38" cy="666.02" r="1.9"/><circle cx="86.13" cy="665.07" r="1.9"/><circle cx="88.89" cy="664.23" r="1.9"/><circle cx="91.64" cy="663.5" r="1.9"/><circle cx="94.39" cy="662.75" r="1.9"/><circle cx="97.14" cy="661.91" r="1.9"/><circle cx="99.89" cy="661.05" r="1.9"/><circle cx="102.65" cy="660.2" r="1.9"/><circle cx="105.4" cy="659.36" r="1.9"/><circle cx="108.15" cy="658.53" r="1.9"/><circle cx="110.9" cy="657.71" r="1.9"/><circle cx="113.66" cy="656.9" r="1.9"/><circle cx="116.41" cy="656.09" r="1.9"/><circle cx="119.16" cy="655.3" r="1.9"/><circle cx="121.91" cy="654.51" r="1.9"/><circle cx="124.67" cy="653.74" r="1.9"/><circle cx="127.42" cy="652.97" r="1.9"/><circle cx="130.17" cy="652.21" r="1.9"/><circle cx="132.92" cy="651.45" r="1.9"/><circle cx="135.68" cy="650.7" r="1.9"/><circle cx="138.43" cy="649.94" r="1.9"/><circle cx="141.18" cy="649.16" r="1.9"/><circle cx="143.93" cy="648.38" r="1.9"/><circle cx="146.68" cy="647.6" r="1.9"/><circle cx="149.44" cy="646.82" r="1.9"/><circle cx="152.19" cy="646.07" r="1.9"/><circle cx="154.94" cy="645.33" r="1.9"/><circle cx="157.69" cy="644.64" r="1.9"/><circle cx="160.45" cy="643.98" r="1.9"/><circle cx="163.2" cy="643.34" r="1.9"/><circle cx="165.95" cy="642.72" r="1.9"/><circle cx="168.7" cy="642.11" r="1.9"/><circle cx="171.46" cy="641.5" r="1.9"/><circle cx="174.21" cy="640.91" r="1.9"/><circle cx="176.96" cy="640.33" r="1.9"/><circle cx="179.71" cy="639.76" r="1.9"/><circle cx="182.47" cy="639.21" r="1.9"/><circle cx="185.22" cy="638.66" r="1.9"/><circle cx="187.97" cy="638.14" r="1.9"/><circle cx="190.72" cy="637.65" r="1.9"/><circle cx="193.47" cy="637.18" r="1.9"/><circle cx="196.23" cy="636.74" r="1.9"/><circle cx="198.98" cy="636.31" r="1.9"/><circle cx="201.73" cy="635.88" r="1.9"/><circle cx="204.48" cy="635.46" r="1.9"/><circle cx="207.24" cy="635.03" r="1.9"/><circle cx="209.99" cy="634.59" r="1.9"/><circle cx="212.74" cy="634.14" r="1.9"/><circle cx="215.49" cy="633.7" r="1.9"/><circle cx="218.25" cy="633.27" r="1.9"/><circle cx="221" cy="632.85" r="1.9"/><circle cx="223.75" cy="632.44" r="1.9"/><circle cx="226.5" cy="632.04" r="1.9"/><circle cx="229.26" cy="631.65" r="1.9"/><circle cx="232.01" cy="631.26" r="1.9"/><circle cx="234.76" cy="630.89" r="1.9"/><circle cx="237.51" cy="630.52" r="1.9"/><circle cx="240.26" cy="630.16" r="1.9"/><circle cx="243.02" cy="629.82" r="1.9"/><circle cx="245.77" cy="629.47" r="1.9"/><circle cx="248.52" cy="629.14" r="1.9"/><circle cx="251.27" cy="628.82" r="1.9"/><circle cx="254.03" cy="628.5" r="1.9"/><circle cx="256.78" cy="628.2" r="1.9"/><circle cx="259.53" cy="627.9" r="1.9"/><circle cx="262.28" cy="627.61" r="1.9"/><circle cx="265.04" cy="627.32" r="1.9"/><circle cx="267.79" cy="627.05" r="1.9"/><circle cx="270.54" cy="626.78" r="1.9"/><circle cx="273.29" cy="626.52" r="1.9"/><circle cx="276.05" cy="626.26" r="1.9"/><circle cx="278.8" cy="626.01" r="1.9"/><circle cx="281.55" cy="625.76" r="1.9"/><circle cx="284.3" cy="625.52" r="1.9"/><circle cx="287.05" cy="625.28" r="1.9"/><circle cx="289.81" cy="625.05" r="1.9"/><circle cx="292.56" cy="624.83" r="1.9"/><circle cx="295.31" cy="624.6" r="1.9"/><circle cx="298.06" cy="624.39" r="1.9"/><circle cx="300.82" cy="624.18" r="1.9"/><circle cx="303.57" cy="623.98" r="1.9"/><circle cx="306.32" cy="623.78" r="1.9"/><circle cx="309.07" cy="623.58" r="1.9"/><circle cx="311.83" cy="623.4" r="1.9"/><circle cx="314.58" cy="623.21" r="1.9"/><circle cx="317.33" cy="623.04" r="1.9"/><circle cx="320.08" cy="622.87" r="1.9"/><circle cx="322.84" cy="622.7" r="1.9"/><circle cx="325.59" cy="622.54" r="1.9"/><circle cx="328.34" cy="622.38" r="1.9"/><circle cx="331.09" cy="622.22" r="1.9"/><circle cx="333.84" cy="622.07" r="1.9"/><circle cx="336.6" cy="621.93" r="1.9"/><circle cx="339.35" cy="621.78" r="1.9"/><circle cx="342.1" cy="621.64" r="1.9"/><circle cx="344.85" cy="621.5" r="1.9"/><circle cx="347.61" cy="621.37" r="1.9"/><circle cx="350.36" cy="621.24" r="1.9"/><circle cx="353.11" cy="621.11" r="1.9"/><circle cx="355.86" cy="620.98" r="1.9"/><circle cx="358.62" cy="620.85" r="1.9"/><circle cx="361.37" cy="620.73" r="1.9"/><circle cx="364.12" cy="620.6" r="1.9"/><circle cx="366.87" cy="620.48" r="1.9"/><circle cx="369.63" cy="620.36" r="1.9"/><circle cx="372.38" cy="620.25" r="1.9"/><circle cx="375.13" cy="620.13" r="1.9"/><circle cx="377.88" cy="620.02" r="1.9"/><circle cx="380.63" cy="619.9" r="1.9"/><circle cx="383.39" cy="619.79" r="1.9"/><circle cx="386.14" cy="619.68" r="1.9"/><circle cx="388.89" cy="619.57" r="1.9"/><circle cx="391.64" cy="619.47" r="1.9"/><circle cx="394.4" cy="619.36" r="1.9"/><circle cx="397.15" cy="619.26" r="1.9"/><circle cx="399.9" cy="619.16" r="1.9"/><circle cx="402.65" cy="619.06" r="1.9"/><circle cx="405.41" cy="618.96" r="1.9"/><circle cx="408.16" cy="618.86" r="1.9"/><circle cx="410.91" cy="618.77" r="1.9"/><circle cx="413.66" cy="618.68" r="1.9"/><circle cx="416.42" cy="618.59" r="1.9"/><circle cx="419.17" cy="618.5" r="1.9"/><circle cx="421.92" cy="618.41" r="1.9"/><circle cx="424.67" cy="618.32" r="1.9"/><circle cx="427.42" cy="618.23" r="1.9"/><circle cx="430.18" cy="618.14" r="1.9"/><circle cx="432.93" cy="618.05" r="1.9"/><circle cx="435.68" cy="617.96" r="1.9"/><circle cx="438.43" cy="617.88" r="1.9"/><circle cx="441.19" cy="617.79" r="1.9"/><circle cx="443.94" cy="617.71" r="1.9"/><circle cx="446.69" cy="617.64" r="1.9"/><circle cx="449.44" cy="617.56" r="1.9"/><circle cx="452.2" cy="617.49" r="1.9"/><circle cx="454.95" cy="617.43" r="1.9"/><circle cx="457.7" cy="617.37" r="1.9"/><circle cx="460.45" cy="617.31" r="1.9"/><circle cx="463.21" cy="617.27" r="1.9"/><circle cx="465.96" cy="617.23" r="1.9"/><circle cx="468.71" cy="617.19" r="1.9"/><circle cx="471.46" cy="617.17" r="1.9"/><circle cx="474.21" cy="617.16" r="1.9"/><circle cx="476.97" cy="617.16" r="1.9"/><circle cx="479.72" cy="617.18" r="1.9"/><circle cx="482.47" cy="617.21" r="1.9"/><circle cx="485.22" cy="617.24" r="1.9"/><circle cx="487.98" cy="617.29" r="1.9"/><circle cx="490.73" cy="617.35" r="1.9"/><circle cx="493.48" cy="617.41" r="1.9"/><circle cx="496.23" cy="617.47" r="1.9"/><circle cx="498.99" cy="617.54" r="1.9"/><circle cx="501.74" cy="617.62" r="1.9"/><circle cx="504.49" cy="617.71" r="1.9"/><circle cx="507.24" cy="617.82" r="1.9"/><circle cx="510" cy="617.94" r="1.9"/><circle cx="512.75" cy="618.07" r="1.9"/><circle cx="514.7" cy="618.14" r="1.9"/>
</g>
<polyline points="50.35,676.32 53.1,660.08 55.86,648.4 58.61,639.98 61.36,635.66 64.11,631.87 66.87,629.36 69.62,627.99 72.37,627.21 75.12,626.36 77.88,625.16 80.63,623.38 83.38,621.41 86.13,619.93 88.89,618.28 91.64,616.56 94.39,614.9 97.14,613.31 99.89,611.9 102.65,610.69 105.4,609.55 108.15,608.34 110.9,606.94 113.66,605.47 116.41,603.99 119.16,602.54 121.91,601.14 124.67,599.81 127.42,598.57 130.17,597.38 132.92,596.19 135.68,594.97 138.43,593.71 141.18,592.45 143.93,591.2 146.68,589.97 149.44,588.77 152.19,587.62 154.94,586.49 157.69,585.38 160.45,584.29 163.2,583.22 165.95,582.18 168.7,581.15 171.46,580.14 174.21,579.16 176.96,578.19 179.71,577.24 182.47,576.32 185.22,575.41 187.97,574.52 190.72,573.65 193.47,572.8 196.23,571.97 198.98,571.16 201.73,570.37 204.48,569.59 207.24,568.84 209.99,568.1 212.74,567.38 215.49,566.67 218.25,565.99 221,565.32 223.75,564.67 226.5,564.03 229.26,563.4 232.01,562.79 234.76,562.2 237.51,561.61 240.26,561.04 243.02,560.48 245.77,559.94 248.52,559.4 251.27,558.88 254.03,558.37 256.78,557.87 259.53,557.39 262.28,556.91 265.04,556.44 267.79,555.99 270.54,555.56 273.29,555.14 276.05,554.74 278.8,554.35 281.55,553.98 284.3,553.62 287.05,553.27 289.81,552.93 292.56,552.6 295.31,552.27 298.06,551.96 300.82,551.65 303.57,551.35 306.32,551.05 309.07,550.76 311.83,550.47 314.58,550.18 317.33,549.9 320.08,549.62 322.84,549.34 325.59,549.08 328.34,548.81 331.09,548.56 333.84,548.31 336.6,548.06 339.35,547.82 342.1,547.59 344.85,547.36 347.61,547.14 350.36,546.92 353.11,546.71 355.86,546.51 358.62,546.31 361.37,546.11 364.12,545.92 366.87,545.74 369.63,545.56 372.38,545.39 375.13,545.22 377.88,545.05 380.63,544.9 383.39,544.74 386.14,544.6 388.89,544.46 391.64,544.32 394.4,544.19 397.15,544.06 399.9,543.94 402.65,543.82 405.41,543.7 408.16,543.59 410.91,543.48 413.66,543.38 416.42,543.27 419.17,543.17 421.92,543.07 424.67,542.98 427.42,542.88 430.18,542.79 432.93,542.7 435.68,542.62 438.43,542.53 441.19,542.45 443.94,542.37 446.69,542.29 449.44,542.22 452.2,542.14 454.95,542.07 457.7,542 460.45,541.93 463.21,541.87 465.96,541.8 468.71,541.74 471.46,541.68 474.21,541.63 476.97,541.6 479.72,541.58 482.47,541.56 485.22,541.55 487.98,541.54 490.73,541.54 493.48,541.53 496.23,541.53 498.99,541.54 501.74,541.55 504.49,541.58 507.24,541.61 510,541.65 512.75,541.69 514.7,541.69" fill="none" stroke="#00bfbf" stroke-width="0.8"/>
<g fill="#00bfbf" stroke="#005858" stroke-width="0.6">
<circle cx="50.35" cy="676.32" r="1.9"/><circle cx="53.1" cy="660.08" r="1.9"/><circle cx="55.86" cy="648.4" r="1.9"/><circle cx="58.61" cy="639.98" r="1.9"/><circle cx="61.36" cy="635.66" r="1.9"/><circle cx="64.11" cy="631.87" r="1.9"/><circle cx="66.87" cy="629.36" r="1.9"/><circle cx="69.62" cy="627.99" r="1.9"/><circle cx="72.37" cy="627.21" r="1.9"/><circle cx="75.12" cy="626.36" r="1.9"/><circle cx="77.88" cy="625.16" r="1.9"/><circle cx="80.63" cy="623.38" r="1.9"/><circle cx="83.38" cy="621.41" r="1.9"/><circle cx="86.13" cy="619.93" r="1.9"/><circle cx="88.89" cy="618.28" r="1.9"/><circle cx="91.64" cy="616.56" r="1.9"/><circle cx="94.39" cy="614.9" r="1.9"/><circle cx="97.14" cy="613.31" r="1.9"/><circle cx="99.89" cy="611.9" r="1.9"/><circle cx="102.65" cy="610.69" r="1.9"/><circle cx="105.4" cy="609.55" r="1.9"/><circle cx="108.15" cy="608.34" r="1.9"/><circle cx="110.9" cy="606.94" r="1.9"/><circle cx="113.66" cy="605.47" r="1.9"/><circle cx="116.41" cy="603.99" r="1.9"/><circle cx="119.16" cy="602.54" r="1.9"/><circle cx="121.91" cy="601.14" r="1.9"/><circle cx="124.67" cy="599.81" r="1.9"/><circle cx="127.42" cy="598.57" r="1.9"/><circle cx="130.17" cy="597.38" r="1.9"/><circle cx="132.92" cy="596.19" r="1.9"/><circle cx="135.68" cy="594.97" r="1.9"/><circle cx="138.43" cy="593.71" r="1.9"/><circle cx="141.18" cy="592.45" r="1.9"/><circle cx="143.93" cy="591.2" r="1.9"/><circle cx="146.68" cy="589.97" r="1.9"/><circle cx="149.44" cy="588.77" r="1.9"/><circle cx="152.19" cy="587.62" r="1.9"/><circle cx="154.94" cy="586.49" r="1.9"/><circle cx="157.69" cy="585.38" r="1.9"/><circle cx="160.45" cy="584.29" r="1.9"/><circle cx="163.2" cy="583.22" r="1.9"/><circle cx="165.95" cy="582.18" r="1.9"/><circle cx="168.7" cy="581.15" r="1.9"/><circle cx="171.46" cy="580.14" r="1.9"/><circle cx="174.21" cy="579.16" r="1.9"/><circle cx="176.96" cy="578.19" r="1.9"/><circle cx="179.71" cy="577.24" r="1.9"/><circle cx="182.47" cy="576.32" r="1.9"/><circle cx="185.22" cy="575.41" r="1.9"/><circle cx="187.97" cy="574.52" r="1.9"/><circle cx="190.72" cy="573.65" r="1.9"/><circle cx="193.47" cy="572.8" r="1.9"/><circle cx="196.23" cy="571.97" r="1.9"/><circle cx="198.98" cy="571.16" r="1.9"/><circle cx="201.73" cy="570.37" r="1.9"/><circle cx="204.48" cy="569.59" r="1.9"/><circle cx="207.24" cy="568.84" r="1.9"/><circle cx="209.99" cy="568.1" r="1.9"/><circle cx="212.74" cy="567.38" r="1.9"/><circle cx="215.49" cy="566.67" r="1.9"/><circle cx="218.25" cy="565.99" r="1.9"/><circle cx="221" cy="565.32" r="1.9"/><circle cx="223.75" cy="564.67" r="1.9"/><circle cx="226.5" cy="564.03" r="1.9"/><circle cx="229.26" cy="563.4" r="1.9"/><circle cx="232.01" cy="562.79" r="1.9"/><circle cx="234.76" cy="562.2" r="1.9"/><circle cx="237.51" cy="561.61" r="1.9"/><circle cx="240.26" cy="561.04" r="1.9"/><circle cx="243.02" cy="560.48" r="1.9"/><circle cx="245.77" cy="559.94" r="1.9"/><circle cx="248.52" cy="559.4" r="1.9"/><circle cx="251.27" cy="558.88" r="1.9"/><circle cx="254.03" cy="558.37" r="1.9"/><circle cx="256.78" cy="557.87" r="1.9"/><circle cx="259.53" cy="557.39" r="1.9"/><circle cx="262.28" cy="556.91" r="1.9"/><circle cx="265.04" cy="556.44" r="1.9"/><circle cx="267.79" cy="555.99" r="1.9"/><circle cx="270.54" cy="555.56" r="1.9"/><circle cx="273.29" cy="555.14" r="1.9"/><circle cx="276.05" cy="554.74" r="1.9"/><circle cx="278.8" cy="554.35" r="1.9"/><circle cx="281.55" cy="553.98" r="1.9"/><circle cx="284.3" cy="553.62" r="1.9"/><circle cx="287.05" cy="553.27" r="1.9"/><circle cx="289.81" cy="552.93" r="1.9"/><circle cx="292.56" cy="552.6" r="1.9"/><circle cx="295.31" cy="552.27" r="1.9"/><circle cx="298.06" cy="551.96" r="1.9"/><circle cx="300.82" cy="551.65" r="1.9"/><circle cx="303.57" cy="551.35" r="1.9"/><circle cx="306.32" cy="551.05" r="1.9"/><circle cx="309.07" cy="550.76" r="1.9"/><circle cx="311.83" cy="550.47" r="1.9"/><circle cx="314.58" cy="550.18" r="1.9"/><circle cx="317.33" cy="549.9" r="1.9"/><circle cx="320.08" cy="549.62" r="1.9"/><circle cx="322.84" cy="549.34" r="1.9"/><circle cx="325.59" cy="549.08" r="1.9"/><circle cx="328.34" cy="548.81" r="1.9"/><circle cx="331.09" cy="548.56" r="1.9"/><circle cx="333.84" cy="548.31" r="1.9"/><circle cx="336.6" cy="548.06" r="1.9"/><circle cx="339.35" cy="547.82" r="1.9"/><circle cx="342.1" cy="547.59" r="1.9"/><circle cx="344.85" cy="547.36" r="1.9"/><circle cx="347.61" cy="547.14" r="1.9"/><circle cx="350.36" cy="546.92" r="1.9"/><circle cx="353.11" cy="546.71" r="1.9"/><circle cx="355.86" cy="546.51" r="1.9"/><circle cx="358.62" cy="546.31" r="1.9"/><circle cx="361.37" cy="546.11" r="1.9"/><circle cx="364.12" cy="545.92" r="1.9"/><circle cx="366.87" cy="545.74" r="1.9"/><circle cx="369.63" cy="545.56" r="1.9"/><circle cx="372.38" cy="545.39" r="1.9"/><circle cx="375.13" cy="545.22" r="1.9"/><circle cx="377.88" cy="545.05" r="1.9"/><circle cx="380.63" cy="544.9" r="1.9"/><circle cx="383.39" cy="544.74" r="1.9"/><circle cx="386.14" cy="544.6" r="1.9"/><circle cx="388.89" cy="544.46" r="1.9"/><circle cx="391.64" cy="544.32" r="1.9"/><circle cx="394.4" cy="544.19" r="1.9"/><circle cx="397.15" cy="544.06" r="1.9"/><circle cx="399.9" cy="543.94" r="1.9"/><circle cx="402.65" cy="543.82" r="1.9"/><circle cx="405.41" cy="543.7" r="1.9"/><circle cx="408.16" cy="543.59" r="1.9"/><circle cx="410.91" cy="543.48" r="1.9"/><circle cx="413.66" cy="543.38" r="1.9"/><circle cx="416.42" cy="543.27" r="1.9"/><circle cx="419.17" cy="543.17" r="1.9"/><circle cx="421.92" cy="543.07" r="1.9"/><circle cx="424.67" cy="542.98" r="1.9"/><circle cx="427.42" cy="542.88" r="1.9"/><circle cx="430.18" cy="542.79" r="1.9"/><circle cx="432.93" cy="542.7" r="1.9"/><circle cx="435.68" cy="542.62" r="1.9"/><circle cx="438.43" cy="542.53" r="1.9"/><circle cx="441.19" cy="542.45" r="1.9"/><circle cx="443.94" cy="542.37" r="1.9"/><circle cx="446.69" cy="542.29" r="1.9"/><circle cx="449.44" cy="542.22" r="1.9"/><circle cx="452.2" cy="542.14" r="1.9"/><circle cx="454.95" cy="542.07" r="1.9"/><circle cx="457.7" cy="542" r="1.9"/><circle cx="460.45" cy="541.93" r="1.9"/><circle cx="463.21" cy="541.87" r="1.9"/><circle cx="465.96" cy="541.8" r="1.9"/><circle cx="468.71" cy="541.74" r="1.9"/><circle cx="471.46" cy="541.68" r="1.9"/><circle cx="474.21" cy="541.63" r="1.9"/><circle cx="476.97" cy="541.6" r="1.9"/><circle cx="479.72" cy="541.58" r="1.9"/><circle cx="482.47" cy="541.56" r="1.9"/><circle cx="485.22" cy="541.55" r="1.9"/><circle cx="487.98" cy="541.54" r="1.9"/><circle cx="490.73" cy="541.54" r="1.9"/><circle cx="493.48" cy="541.53" r="1.9"/><circle cx="496.23" cy="541.53" r="1.9"/><circle cx="498.99" cy="541.54" r="1.9"/><circle cx="501.74" cy="541.55" r="1.9"/><circle cx="504.49" cy="541.58" r="1.9"/><circle cx="507.24" cy="541.61" r="1.9"/><circle cx="510" cy="541.65" r="1.9"/><circle cx="512.75" cy="541.69" r="1.9"/><circle cx="514.7" cy="541.69" r="1.9"/>
</g>
</g>
<rect x="53" y="521.8" width="164.6" height="67.5" fill="#fff" stroke="#4c4c4c" stroke-width="0.9"/>
<line x1="61.1" y1="530.55" x2="76.45" y2="530.55" stroke="#0000ff" stroke-width="0.8"/>
<g fill="#0000ff" stroke="#000070" stroke-width="0.6"><circle cx="61.1" cy="530.55" r="2.0"/><circle cx="76.45" cy="530.55" r="2.0"/></g>
<text x="88.7" y="534.45" font-size="11.1" fill="#222">20-30% brightness pixels</text>
<line x1="61.1" y1="546.65" x2="76.45" y2="546.65" stroke="#008000" stroke-width="0.8"/>
<g fill="#008000" stroke="#003800" stroke-width="0.6"><circle cx="61.1" cy="546.65" r="2.0"/><circle cx="76.45" cy="546.65" r="2.0"/></g>
<text x="88.7" y="550.55" font-size="11.1" fill="#222">40-50% brightness pixels</text>
<line x1="61.1" y1="562.75" x2="76.45" y2="562.75" stroke="#ff0000" stroke-width="0.8"/>
<g fill="#ff0000" stroke="#700000" stroke-width="0.6"><circle cx="61.1" cy="562.75" r="2.0"/><circle cx="76.45" cy="562.75" r="2.0"/></g>
<text x="88.7" y="566.65" font-size="11.1" fill="#222">60-70% brightness pixels</text>
<line x1="61.1" y1="578.85" x2="76.45" y2="578.85" stroke="#00bfbf" stroke-width="0.8"/>
<g fill="#00bfbf" stroke="#005858" stroke-width="0.6"><circle cx="61.1" cy="578.85" r="2.0"/><circle cx="76.45" cy="578.85" r="2.0"/></g>
<text x="88.7" y="582.75" font-size="11.1" fill="#222">80-90% brightness pixels</text>
<path d="M47.6 717.6v-3.2M47.6 516v3.2M141.18 717.6v-3.2M141.18 516v3.2M234.76 717.6v-3.2M234.76 516v3.2M328.34 717.6v-3.2M328.34 516v3.2M421.92 717.6v-3.2M421.92 516v3.2M515.5 717.6v-3.2M515.5 516v3.2M47.6 717.6h3.2M515.5 717.6h-3.2M47.6 684h3.2M515.5 684h-3.2M47.6 650.4h3.2M515.5 650.4h-3.2M47.6 616.8h3.2M515.5 616.8h-3.2M47.6 583.2h3.2M515.5 583.2h-3.2M47.6 549.6h3.2M515.5 549.6h-3.2M47.6 516h3.2M515.5 516h-3.2" stroke="#000" stroke-width="0.55" fill="none" opacity="0.85"/>
<rect x="47.6" y="516" width="467.9" height="201.6" fill="none" stroke="#4c4c4c" stroke-width="1.15"/>
<text transform="translate(44.9 720.9) scale(0.905 1)" font-size="10.5" text-anchor="end" fill="#222">0.0002</text>
<text transform="translate(44.9 687.3) scale(0.905 1)" font-size="10.5" text-anchor="end" fill="#222">0.0004</text>
<text transform="translate(44.9 653.7) scale(0.905 1)" font-size="10.5" text-anchor="end" fill="#222">0.0006</text>
<text transform="translate(44.9 620.1) scale(0.905 1)" font-size="10.5" text-anchor="end" fill="#222">0.0008</text>
<text transform="translate(44.9 586.5) scale(0.905 1)" font-size="10.5" text-anchor="end" fill="#222">0.0010</text>
<text transform="translate(44.9 552.9) scale(0.905 1)" font-size="10.5" text-anchor="end" fill="#222">0.0012</text>
<text transform="translate(44.9 519.3) scale(0.905 1)" font-size="10.5" text-anchor="end" fill="#222">0.0014</text>
<text transform="translate(47.4 728.8) scale(0.905 1)" font-size="10.5" text-anchor="middle" fill="#222">0.00</text>
<text transform="translate(140.98 728.8) scale(0.905 1)" font-size="10.5" text-anchor="middle" fill="#222">0.02</text>
<text transform="translate(234.56 728.8) scale(0.905 1)" font-size="10.5" text-anchor="middle" fill="#222">0.04</text>
<text transform="translate(328.14 728.8) scale(0.905 1)" font-size="10.5" text-anchor="middle" fill="#222">0.06</text>
<text transform="translate(421.72 728.8) scale(0.905 1)" font-size="10.5" text-anchor="middle" fill="#222">0.08</text>
<text transform="translate(515.3 728.8) scale(0.905 1)" font-size="10.5" text-anchor="middle" fill="#222">0.10</text>
<text x="281.25" y="741.1" font-size="11.15" text-anchor="middle" fill="#222">Seconds</text>
<text x="282.05" y="512.8" font-size="12.55" text-anchor="middle" fill="#222">AO188 + Extreme AO, 20170531</text>
<text transform="translate(10.1 616.8) rotate(-90)" font-size="11.25" text-anchor="middle" fill="#222">(Standard deviation) / (PSF core intensity)</text>
</g>
</svg>
</body></html>
